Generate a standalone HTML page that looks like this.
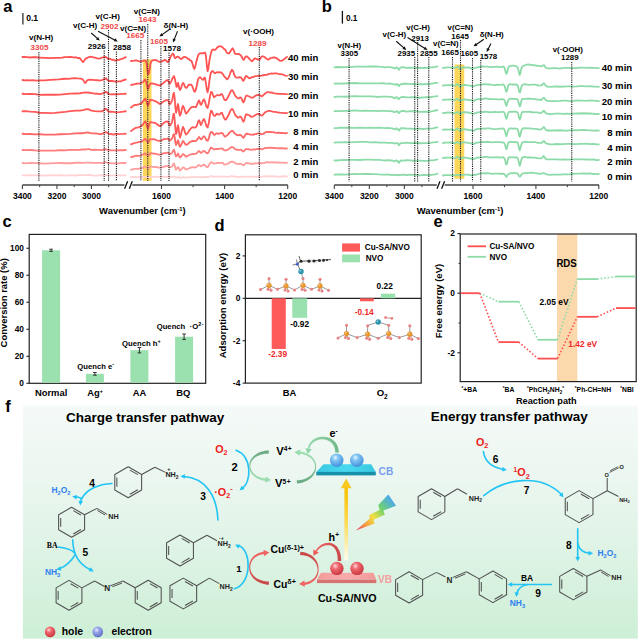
<!DOCTYPE html>
<html><head><meta charset="utf-8"><title>Figure</title>
<style>
html,body{margin:0;padding:0;background:#fff;width:640px;height:640px;overflow:hidden}
svg{display:block}
text{font-family:"Liberation Sans", Arial, sans-serif;font-weight:bold}
</style></head><body>
<svg width="640" height="640" viewBox="0 0 640 640">
<rect width="640" height="640" fill="#fff"/>
<text x="3.2" y="11.6" font-size="16.5">a</text>
<line x1="22.9" y1="13" x2="22.9" y2="24.4" stroke="#222" stroke-width="1.2"/>
<text x="26.2" y="21.1" font-size="8.6">0.1</text>
<line x1="22.4" y1="185" x2="124.4" y2="185" stroke="#444" stroke-width="1.3"/>
<line x1="132.3" y1="185" x2="287.8" y2="185" stroke="#444" stroke-width="1.3"/>
<line x1="124.6" y1="188.75" x2="127.6" y2="181.25" stroke="#111" stroke-width="1.3"/>
<line x1="129.3" y1="188.75" x2="132.3" y2="181.25" stroke="#111" stroke-width="1.3"/>
<line x1="22.4" y1="185" x2="22.4" y2="189" stroke="#444" stroke-width="1.1"/>
<text x="22.4" y="199.2" font-size="8.5" text-anchor="middle">3400</text>
<line x1="56.92" y1="185" x2="56.92" y2="189" stroke="#444" stroke-width="1.1"/>
<text x="56.92" y="199.2" font-size="8.5" text-anchor="middle">3200</text>
<line x1="91.44" y1="185" x2="91.44" y2="189" stroke="#444" stroke-width="1.1"/>
<text x="91.44" y="199.2" font-size="8.5" text-anchor="middle">3000</text>
<line x1="39.66" y1="185" x2="39.66" y2="187.2" stroke="#444" stroke-width="1"/>
<line x1="74.18" y1="185" x2="74.18" y2="187.2" stroke="#444" stroke-width="1"/>
<line x1="108.7" y1="185" x2="108.7" y2="187.2" stroke="#444" stroke-width="1"/>
<line x1="161.5" y1="185" x2="161.5" y2="189" stroke="#444" stroke-width="1.1"/>
<text x="161.5" y="199.2" font-size="8.5" text-anchor="middle">1600</text>
<line x1="224.6" y1="185" x2="224.6" y2="189" stroke="#444" stroke-width="1.1"/>
<text x="224.6" y="199.2" font-size="8.5" text-anchor="middle">1400</text>
<line x1="287.7" y1="185" x2="287.7" y2="189" stroke="#444" stroke-width="1.1"/>
<text x="287.7" y="199.2" font-size="8.5" text-anchor="middle">1200</text>
<line x1="193.05" y1="185" x2="193.05" y2="187.2" stroke="#444" stroke-width="1"/>
<line x1="256.15" y1="185" x2="256.15" y2="187.2" stroke="#444" stroke-width="1"/>
<text x="142.4" y="214.3" font-size="9.45" text-anchor="middle">Wavenumber (cm<tspan font-size="5.8" dy="-3.4">-1</tspan><tspan dy="3.4">)</tspan></text>
<rect x="142.9" y="59.4" width="8.6" height="121.4" fill="#fdd65a"/>
<polyline points="22.5,57 24.35,56.9 27.04,57.03 30,57.5 32.96,57.08 36.2,57.25 40,57.53 44.93,57.81 50.41,58.18 55,57.94 57.89,57.81 59.89,57.9 62,57.72 64.67,57.14 67.44,57.1 70,56.96 72.22,57.15 74.22,57.53 76,57.23 77.52,57.98 78.81,57.89 80,58.39 81.07,59.85 82.04,61 83,62.08 83.96,61.18 84.93,59.4 86,58.28 87.22,57.89 88.56,57.18 90,56.77 91.59,56.82 93.3,57.26 95,57.68 96.67,58.23 98.33,58.65 100,58.31 101.74,57.78 103.48,57.13 105,56.95 106.11,57.1 107,57.84 108,58.78 109.3,58.65 110.7,59.21 112,59.79 113.07,59.62 114.04,60.22 115,60.52 116,60.35 117,60 118,60 118.93,59.75 119.87,59.53 121,59.04 122.64,58.67 124.49,57.65 125.8,57.2" fill="none" stroke="#ff5252" stroke-width="1.8" stroke-linejoin="round" stroke-linecap="round"/>
<polyline points="22.5,80 24.35,80.38 27.04,80.12 30,80.35 32.96,80.23 36.2,80.61 40,80.43 44.81,80.37 50.19,79.82 55,79.59 58.7,79.39 61.85,79.02 65,78.76 68.44,78.92 71.89,78.4 75,78.27 77.7,78.45 80.07,78.54 82,78.92 83.3,80.06 84.15,81.69 85,82.99 85.85,82.49 86.7,80.78 88,79.89 90.11,79.75 92.67,79.88 95,80.18 96.85,80.25 98.48,80.26 100,80.72 101.48,80.05 102.85,79.93 104,78.98 104.81,78.87 105.41,78.52 106,78.23 106.59,79.24 107.19,79.83 108,80.3 109.19,81 110.59,80.81 112,81.01 113.33,81.23 114.67,81.62 116,81.35 117.37,81.57 118.74,81.32 120,81.45 121.08,81.28 122.05,80.58 123,80.24 124.05,80.28 125.08,79.56 125.8,79.5" fill="none" stroke="#ff5454" stroke-width="1.8" stroke-linejoin="round" stroke-linecap="round"/>
<polyline points="22.5,93.75 25.65,94.15 30.19,93.9 35,94.16 39.81,94.9 44.91,94.65 50,94.73 55,94.76 60,94.56 65,94.18 70.26,93.71 75.52,93.5 80,93.26 83.33,92.71 85.89,92.51 88,92.62 89.48,92.44 90.52,93.18 92,93.17 94.52,93.68 97.48,93.73 100,94.06 101.7,93.62 102.96,93.27 104,92.84 104.78,92.44 105.33,92.15 106,91.7 106.78,92.26 107.67,93.29 109,94.13 110.93,94.47 113.31,94.13 116,94.43 119.42,94.03 123.16,93.8 125.8,93.75" fill="none" stroke="#ff5656" stroke-width="1.8" stroke-linejoin="round" stroke-linecap="round"/>
<polyline points="22.5,111.25 25.65,111.2 30.19,111.71 35,111.91 39.81,112.74 44.91,112.97 50,113.15 55,112.85 60,112.31 65,111.88 70.26,111.05 75.52,110.69 80,110.49 83.33,110.21 85.89,109.27 88,109.09 89.48,109.54 90.52,110.3 92,110.66 94.52,111.07 97.48,111.32 100,111.42 101.7,111.46 102.96,110.89 104,110.06 104.78,109.53 105.33,108.66 106,108.89 106.78,109.08 107.67,110.81 109,111.76 110.93,111.68 113.31,111.94 116,112.35 119.42,112.19 123.16,111.71 125.8,111.25" fill="none" stroke="#ff5858" stroke-width="1.8" stroke-linejoin="round" stroke-linecap="round"/>
<polyline points="22.5,133.75 25.65,134.17 30.19,133.98 35,134.28 39.81,134.25 44.91,134.72 50,134.64 55,134.69 60,134.25 65,134.08 70.26,133.88 75.52,133.47 80,133.15 83.33,133.23 85.89,132.62 88,132.44 89.48,132.79 90.52,133.1 92,133.31 94.52,133.45 97.48,133.7 100,134.18 101.7,134.03 102.96,133.22 104,132.92 104.78,132.56 105.33,132.16 106,132.19 106.78,132.53 107.67,133.06 109,134.09 110.93,134 113.31,134.5 116,134.01 119.42,134.16 123.16,133.91 125.8,133.75" fill="none" stroke="#ff6666" stroke-width="1.8" stroke-linejoin="round" stroke-linecap="round"/>
<polyline points="22.5,150 25.65,150.2 30.19,150.01 35,150.4 39.81,150.58 44.91,150.57 50,150.66 55,150.66 60,150.07 65,150.46 70.26,149.96 75.52,149.97 80,149.76 83.33,149.38 85.89,149.49 88,149.03 89.48,149.09 90.52,149.75 92,149.89 94.52,149.75 97.48,149.9 100,149.94 101.7,150.21 102.96,149.54 104,149.58 104.78,149.27 105.33,149.26 106,149.24 106.78,149.59 107.67,149.9 109,149.81 110.93,150.47 113.31,150.38 116,150.32 119.42,150.22 123.16,150.24 125.8,150" fill="none" stroke="#ff7a7a" stroke-width="1.8" stroke-linejoin="round" stroke-linecap="round"/>
<polyline points="22.5,163 25.65,163.32 30.19,162.97 35,163.14 39.81,163.23 44.91,163.57 50,163.35 55,163.21 60,163.01 65,163.27 70.26,163.24 75.52,162.76 80,162.53 83.33,162.8 85.89,162.58 88,162.64 89.48,162.69 90.52,162.6 92,162.83 94.52,162.82 97.48,162.83 100,162.95 101.7,163.14 102.96,162.83 104,162.78 104.78,162.31 105.33,162.12 106,162.23 106.78,162.51 107.67,162.8 109,163.03 110.93,163.12 113.31,163.39 116,163.31 119.42,163.24 123.16,162.94 125.8,163" fill="none" stroke="#ff9c9c" stroke-width="1.8" stroke-linejoin="round" stroke-linecap="round"/>
<polyline points="22.5,175.3 25.65,175.33 30.19,175.15 35,175.3 39.81,175.24 44.91,175.68 50,175.25 55,175.29 60,175.26 65,175.56 70.26,175.05 75.52,175.49 80,174.97 83.33,175.3 85.89,174.96 88,175.17 89.48,174.89 90.52,175.01 92,175.41 94.52,175.57 97.48,175.58 100,175.12 101.7,175.35 102.96,175.1 104,175.13 104.78,174.87 105.33,175.24 106,175.11 106.78,174.97 107.67,175.12 109,175.35 110.93,175.33 113.31,175.42 116,175.51 119.42,175.45 123.16,175.38 125.8,175.3" fill="none" stroke="#ffd3d3" stroke-width="1.8" stroke-linejoin="round" stroke-linecap="round"/>
<polyline points="131,61 132.33,60.8 134.22,60.64 136,60.35 137.37,60.72 138.63,61.19 140,61.56 141.72,61.45 143.56,60.51 145,60.7 145.76,60.54 146.13,61.47 146.5,63.03 147,66.56 147.5,71.11 148,73.92 148.5,74.09 149,71.98 149.5,70.25 149.91,67.35 150.31,64.4 151,62.03 152.11,60.57 153.5,59.99 155,60.03 156.59,60.26 158.3,61.3 160,62.03 161.74,61.39 163.48,60.67 165,59.9 166.19,60.47 167.15,61.58 168,62.16 168.7,61.22 169.3,59.51 170,58.21 170.96,56.06 172.04,54.43 173,53.55 173.7,54.58 174.3,56.82 175,58.16 175.93,57.51 176.96,56.86 178,56.56 179,57.29 180,58.28 181,59.13 182,58.64 183,57.53 184,56.87 185,56.9 186,57.47 187,57.8 188.04,58.82 189.07,59.15 190,60.29 190.73,60.62 191.35,60.9 192,62.22 192.77,64.65 193.57,67.43 194.3,68.96 194.9,67.71 195.43,65.72 196,63.26 196.64,60.81 197.32,57.99 198,55.92 198.61,54.55 199.22,53.73 200,53.37 201.11,53.28 202.38,53.01 203.5,53.26 204.31,52.92 204.96,52.45 205.6,54.19 206.28,59.23 206.94,66.65 207.6,71.22 208.22,69.38 208.83,64.94 209.5,60 210.27,56.16 211.11,52.59 212,50.07 212.98,49.44 214.01,49.78 215,49.86 215.87,49.25 216.69,48.11 217.6,47.12 218.65,46.44 219.79,46.27 221,46.29 222.36,47.15 223.79,48.73 225,49.55 225.81,50.69 226.41,51.86 227,52.93 227.61,53.02 228.22,53.41 229,53.49 230.09,52 231.35,49.83 232.5,48.14 233.39,49.45 234.17,51.53 235,53.64 235.96,53.92 236.98,54.13 238,53.8 239.01,54.16 240.03,54.71 241,55.65 241.9,57.06 242.76,58.73 243.6,59.86 244.39,59 245.16,57.19 246,56.46 246.96,56.48 247.98,57.29 249,58.41 250,59.59 251,60.53 252,61.25 252.96,60.62 253.93,58.99 255,58.36 256.3,58.76 257.7,59.61 259,59.66 260.07,59.12 261.04,57.29 262,56.39 263,56.39 264,56.76 265,57.34 265.96,58.32 266.93,59.05 268,59.71 269.22,59.15 270.56,58.06 272,57.8 273.63,57.31 275.37,57.61 277,58.58 278.33,59.51 279.56,60.54 281,60.86 283.07,60.13 285.37,58.14 287,56.9" fill="none" stroke="#ff5252" stroke-width="1.8" stroke-linejoin="round" stroke-linecap="round"/>
<polyline points="131,85 132,84.58 133.44,84.61 135,84.2 136.67,83.73 138.44,83.59 140,83.59 141.17,82.85 142.11,82.32 143,82 143.87,81.09 144.69,79.76 145.5,79.76 146.35,82.83 147.2,86.5 148,89.21 148.59,87.91 149.13,85.9 150,83.81 151.44,83.3 153.22,83.62 155,84.11 156.67,84.61 158.33,85.2 160,85.56 161.74,84.22 163.48,82.92 165,81.65 166.19,80.7 167.15,80.15 168,80.21 168.67,81.72 169.22,83.39 170,83.57 171.24,81.37 172.7,77.97 174,76.11 174.98,79.25 175.8,83.83 176.5,86.79 177.06,86.6 177.5,83.93 178,82.73 178.59,85.04 179.24,88.45 180,89.94 180.93,88.46 181.96,85.03 183,82.9 184,84.02 185,86.74 186,87.89 187,87.57 188,85.66 189,84.6 190,84.74 191,84.52 192,85.56 193,88.05 194,90.97 195,91.77 196.04,89.12 197.07,84.01 198,79.75 198.7,78.1 199.3,77.74 200,77.17 200.96,78.05 202.04,79.17 203,79.84 203.72,79.26 204.33,77.63 205,77.93 205.83,82.66 206.73,89.17 207.6,92.27 208.43,88.83 209.24,82.02 210,76.81 210.66,73.66 211.27,72.15 212,71.04 212.93,71.09 213.96,72.48 215,73.25 215.96,72.69 216.93,72.27 218,72.34 219.3,72.07 220.7,72.34 222,73.16 223.07,74.3 224.04,76.13 225,77.33 225.96,78.1 226.93,79.34 228,78.56 229.3,75.81 230.7,72 232,69.78 233.07,70.8 234.04,74.19 235,76.5 236,77.27 237,77.56 238,77.68 239.02,77.25 240.04,77.32 241,77.46 241.87,78.59 242.69,80.39 243.5,80.81 244.31,79.28 245.13,77.5 246,75.84 246.96,76.41 247.98,77.16 249,78.14 249.96,78.25 250.93,77.73 252,77.15 253.26,77.02 254.63,76.43 256,76.17 257.3,75.98 258.59,75.64 260,75.87 261.59,75.63 263.3,75.25 265,74.85 266.67,74.79 268.33,74.2 270,73.9 271.67,73.48 273.33,73.73 275,73.33 276.59,73.46 278.19,73.81 280,74.06 282.44,74.38 285.11,75.55 287,75.9" fill="none" stroke="#ff5454" stroke-width="1.8" stroke-linejoin="round" stroke-linecap="round"/>
<polyline points="131,107.5 132,106.8 133.44,105.62 135,104.91 136.67,104.8 138.44,104.51 140,103.8 141.17,103.51 142.11,102.61 143,101.22 143.87,100.4 144.69,99.06 145.5,98.75 146.35,101 147.2,104.36 148,105.76 148.59,104.6 149.13,102.08 150,99.84 151.44,99.97 153.22,100.3 155,101.08 156.7,101.8 158.41,103.11 160,104.07 161.41,103.16 162.7,102.07 164,101.24 165.43,100.49 166.85,100.09 168,100.06 168.65,101.23 169.02,102.95 169.5,104.27 170.28,103.84 171.17,102.44 172,100.73 172.7,97.9 173.35,93.94 174,92.82 174.67,98.21 175.33,107.01 176,112.74 176.67,110.85 177.33,106.53 178,104 178.63,107.33 179.26,113.13 180,115.71 180.93,113.53 181.96,108.62 183,105.8 183.96,107.85 184.93,110.9 186,113.67 187.3,112.54 188.7,110.56 190,108.7 191.07,107.58 192.04,107.1 193,106.72 194,106.94 195,107.1 196,107.05 197.04,104.69 198.07,102.05 199,100.33 199.7,101.61 200.3,104.05 201,104.89 201.9,103.46 202.92,100.78 204,99.28 205.16,102.12 206.39,106.42 207.6,108.02 208.76,103.68 209.9,96.54 211,91.9 212.03,92.24 213.01,95.13 214,97.29 215.04,96.48 216.07,95.85 217,95.13 217.7,95.04 218.3,95.17 219,95.46 219.93,95.21 220.96,94.25 222,94.21 223,96.28 224,99.05 225,100.21 225.96,100.16 226.93,98.91 228,97.18 229.3,94.44 230.7,91.27 232,90.07 233.07,91.14 234.04,93.42 235,95.32 236,96.68 237,97.63 238,98.39 239.02,98.41 240.04,97.44 241,97.61 241.87,99.18 242.69,101.42 243.5,102.4 244.31,100.89 245.13,97.97 246,95.87 246.96,95.49 247.98,96.01 249,96.32 249.96,97.01 250.93,97.33 252,97.79 253.3,97.42 254.7,96.2 256,95.42 257.07,95.03 258.04,94.99 259,95 259.96,95.35 260.93,95.96 262,96.3 263.26,95.14 264.63,94.03 266,92.91 267.3,92.05 268.59,92.14 270,92.53 271.59,92.37 273.3,93.07 275,93.44 276.59,93.59 278.19,93.83 280,93.84 282.44,93.86 285.11,94.03 287,94.1" fill="none" stroke="#ff5656" stroke-width="1.8" stroke-linejoin="round" stroke-linecap="round"/>
<polyline points="131,131.07 132,130.44 133.44,129.17 135,128.18 136.67,127.71 138.44,127.3 140,126.79 141.17,126.15 142.11,125.28 143,124.35 143.87,122.85 144.69,121.88 145.5,121.21 146.35,123.9 147.2,127.06 148,128.87 148.59,127.04 149.13,124.43 150,122.39 151.44,122.13 153.22,122.52 155,122.78 156.7,124.15 158.41,125.15 160,126.2 161.41,125.41 162.7,123.76 164,122.86 165.43,121.71 166.85,121.55 168,121.45 168.65,123.02 169.02,124.79 169.5,125.51 170.28,125.28 171.17,123.7 172,122.03 172.7,118.39 173.35,114.41 174,113.59 174.67,119.54 175.33,128.26 176,134.11 176.67,132.61 177.33,127.44 178,125.07 178.63,128.38 179.26,134.25 180,137.63 180.93,135.04 181.96,130.03 183,126.95 183.96,128.8 184.93,132.37 186,134.63 187.3,133.63 188.7,131.47 190,129.54 191.07,128.21 192.04,127.51 193,127.09 194,127.51 195,127.71 196,127.05 197.04,125.28 198.07,121.71 199,120.23 199.7,121.5 200.3,123.65 201,125.06 201.9,123.04 202.92,120.41 204,119.02 205.16,121.74 206.39,126.1 207.6,127.45 208.76,123.31 209.9,115.6 211,110.76 212.03,111.29 213.01,114.13 214,115.91 215.04,115.91 216.07,114.7 217,113.67 217.7,114.26 218.3,114.5 219,114.59 219.93,114.16 220.96,113 222,112.76 223,115.3 224,118.02 225,119.6 225.96,119.66 226.93,117.75 228,116.01 229.3,113.25 230.7,110.16 232,108.98 233.07,109.91 234.04,112.24 235,114.52 236,116.11 237,116.76 238,117.78 239.02,117.17 240.04,116.55 241,117.05 241.87,118.44 242.69,120.72 243.5,121.7 244.31,120.02 245.13,116.8 246,114.37 246.96,114.47 247.98,114.84 249,115.06 249.96,115.8 250.93,116.82 252,116.62 253.3,116.47 254.7,115.42 256,114.68 257.07,114.06 258.04,114.17 259,113.88 259.96,114.5 260.93,115.36 262,115.54 263.26,114.33 264.63,112.74 266,111.81 267.3,111.26 268.59,110.8 270,110.95 271.59,111.27 273.3,111.84 275,111.91 276.59,112.2 278.19,112.58 280,112.7 282.44,112.8 285.11,113.18 287,113" fill="none" stroke="#ff5858" stroke-width="1.8" stroke-linejoin="round" stroke-linecap="round"/>
<polyline points="131,144.37 132,143.91 133.44,143.36 135,142.98 136.67,142.65 138.44,142.11 140,141.79 141.17,141.69 142.11,141.12 143,140.55 143.87,140.07 144.69,139.12 145.5,138.86 146.35,140 147.2,141.52 148,142.89 148.59,141.91 149.13,140.44 150,139.09 151.44,139.35 153.22,139.24 155,139.34 156.7,140.25 158.41,140.9 160,140.76 161.41,140.69 162.7,139.61 164,138.99 165.43,139.04 166.85,138.81 168,138.33 168.65,138.95 169.02,140.01 169.5,140.35 170.28,140.48 171.17,139.47 172,138.62 172.7,136.98 173.35,134.63 174,134.26 174.67,137.05 175.33,142.13 176,145.03 176.67,144.01 177.33,141.55 178,140.19 178.63,141.9 179.26,145.23 180,146.8 180.93,145.4 181.96,142.84 183,140.95 183.96,142.1 184.93,143.68 186,144.91 187.3,144.5 188.7,143.14 190,141.99 191.07,141.6 192.04,140.97 193,140.99 194,141.2 195,141.16 196,140.87 197.04,139.89 198.07,138.27 199,137.03 199.7,137.83 200.3,138.72 201,139.4 201.9,138.88 202.92,137.11 204,136.24 205.16,137.52 206.39,140.24 207.6,140.79 208.76,138.48 209.9,134.36 211,131.97 212.03,132.14 213.01,133.35 214,134.8 215.04,134.67 216.07,133.63 217,133.31 217.7,133.39 218.3,133.83 219,133.65 219.93,133.34 220.96,133.24 222,132.87 223,133.81 224,135.69 225,136.67 225.96,136.18 226.93,135.41 228,134.59 229.3,132.92 230.7,131.63 232,130.91 233.07,131.19 234.04,132.65 235,133.67 236,134.23 237,135.16 238,135.25 239.02,135.11 240.04,134.67 241,135.25 241.87,136.08 242.69,137.22 243.5,137.74 244.31,136.88 245.13,135.22 246,133.84 246.96,133.67 247.98,134.05 249,134.2 249.96,134.62 250.93,134.58 252,134.7 253.3,134.88 254.7,134.08 256,134.09 257.07,133.66 258.04,133.44 259,133.39 259.96,133.48 260.93,134.24 262,134.16 263.26,133.94 264.63,132.79 266,132.08 267.3,131.82 268.59,132.1 270,131.84 271.59,132.11 273.3,132.1 275,132.66 276.59,132.9 278.19,132.67 280,132.98 282.44,132.94 285.11,133.27 287,133" fill="none" stroke="#ff6666" stroke-width="1.8" stroke-linejoin="round" stroke-linecap="round"/>
<polyline points="131,157.19 132,156.64 133.44,156.75 135,155.91 136.67,155.69 138.44,155.86 140,155.63 141.17,155.36 142.11,154.56 143,154.41 143.87,154.3 144.69,153.46 145.5,153.63 146.35,154.08 147.2,155.25 148,155.6 148.59,155.5 149.13,154.51 150,153.35 151.44,153.24 153.22,153.64 155,153.75 156.7,153.97 158.41,154.62 160,154.68 161.41,154.35 162.7,153.64 164,153.09 165.43,153.11 166.85,152.67 168,152.87 168.65,153.03 169.02,153.53 169.5,154.09 170.28,153.99 171.17,153.51 172,153.05 172.7,151.47 173.35,150.43 174,149.72 174.67,151.66 175.33,154.77 176,156.44 176.67,156.18 177.33,154.7 178,153.38 178.63,154.96 179.26,156.61 180,157.52 180.93,156.7 181.96,155.3 183,153.95 183.96,154.68 184.93,155.64 186,156.77 187.3,156 188.7,155.35 190,154.55 191.07,154.41 192.04,154.08 193,153.95 194,154.13 195,153.9 196,153.64 197.04,153.06 198.07,151.63 199,151.04 199.7,151.49 200.3,152.29 201,152.96 201.9,152.45 202.92,151.2 204,150.94 205.16,151.72 206.39,152.85 207.6,153.38 208.76,151.99 209.9,149.16 211,147.51 212.03,148.11 213.01,148.66 214,149.41 215.04,149.24 216.07,148.82 217,149.09 217.7,148.79 218.3,149.08 219,148.76 219.93,148.58 220.96,148.56 222,148.39 223,148.94 224,150.1 225,150.46 225.96,150.43 226.93,149.99 228,149.49 229.3,148.66 230.7,147.3 232,147.07 233.07,147.27 234.04,148.18 235,149.06 236,149.71 237,149.55 238,149.99 239.02,149.89 240.04,149.85 241,149.7 241.87,150.3 242.69,151.32 243.5,151.4 244.31,150.87 245.13,149.79 246,148.9 246.96,149.16 247.98,149.35 249,149.14 249.96,149.71 250.93,149.84 252,149.72 253.3,149.51 254.7,149.52 256,149.1 257.07,148.82 258.04,149.01 259,148.55 259.96,149.03 260.93,148.93 262,149.45 263.26,148.77 264.63,148.14 266,148 267.3,148.13 268.59,147.66 270,147.99 271.59,147.69 273.3,148.01 275,147.96 276.59,148.28 278.19,148.12 280,148.24 282.44,148.24 285.11,148.49 287,148.5" fill="none" stroke="#ff7a7a" stroke-width="1.8" stroke-linejoin="round" stroke-linecap="round"/>
<polyline points="131,169.72 132,169.74 133.44,169.03 135,168.79 136.67,168.92 138.44,168.77 140,168.27 141.17,168.04 142.11,168.02 143,167.59 143.87,167.12 144.69,166.41 145.5,166.79 146.35,167.31 147.2,168.06 148,168.44 148.59,167.93 149.13,167.18 150,166.55 151.44,166.57 153.22,166.84 155,167.07 156.7,166.92 158.41,167.73 160,167.55 161.41,167.46 162.7,166.94 164,166.74 165.43,166.19 166.85,166.24 168,165.96 168.65,166.6 169.02,166.93 169.5,167.34 170.28,167.17 171.17,166.82 172,166.49 172.7,165.49 173.35,163.84 174,163.5 174.67,165.64 175.33,167.92 176,169.72 176.67,169 177.33,167.72 178,167.16 178.63,167.6 179.26,169.37 180,170.53 180.93,169.74 181.96,168.45 183,167.38 183.96,167.67 184.93,168.73 186,169.59 187.3,168.97 188.7,168.55 190,167.86 191.07,167.38 192.04,167.48 193,167.01 194,167.48 195,167.61 196,167.2 197.04,166.5 198.07,165.38 199,165.08 199.7,165.19 200.3,166.14 201,166.26 201.9,165.58 202.92,165.17 204,164.67 205.16,165.35 206.39,166.82 207.6,167.18 208.76,165.42 209.9,163.32 211,162.24 212.03,162.31 213.01,163.28 214,163.69 215.04,163.36 216.07,163.4 217,162.93 217.7,162.75 218.3,162.83 219,163.27 219.93,162.96 220.96,162.84 222,162.81 223,163.07 224,164.39 225,164.69 225.96,164.46 226.93,163.99 228,163.67 229.3,162.69 230.7,161.86 232,161.52 233.07,161.75 234.04,162.25 235,163.14 236,163.54 237,163.84 238,163.92 239.02,164.12 240.04,163.57 241,163.94 241.87,164.29 242.69,165.26 243.5,165 244.31,164.92 245.13,163.94 246,162.98 246.96,163.01 247.98,163.43 249,163.49 249.96,163.48 250.93,163.74 252,163.89 253.3,163.76 254.7,163.38 256,163.32 257.07,163.29 258.04,163.08 259,162.79 259.96,163.36 260.93,163.13 262,163.3 263.26,162.79 264.63,162.83 266,162.34 267.3,162.16 268.59,162.4 270,162.42 271.59,162.19 273.3,162.61 275,162.18 276.59,162.53 278.19,162.45 280,162.55 282.44,162.54 285.11,162.94 287,162.7" fill="none" stroke="#ff9c9c" stroke-width="1.8" stroke-linejoin="round" stroke-linecap="round"/>
<polyline points="131,177.3 132,176.98 133.44,176.93 135,177.15 136.67,177.08 138.44,177.26 140,177 141.17,176.84 142.11,177.25 143,176.94 143.87,176.98 144.69,176.89 145.5,176.6 146.35,176.65 147.2,177.25 148,177.03 148.59,176.91 149.13,176.9 150,177.15 151.44,176.58 153.22,176.94 155,176.96 156.7,176.72 158.41,176.84 160,177.25 161.41,176.78 162.7,176.68 164,177.13 165.43,176.87 166.85,176.58 168,177.05 168.65,177.1 169.02,177.22 169.5,176.97 170.28,177.25 171.17,176.88 172,176.81 172.7,177 173.35,176.71 174,176.39 174.67,176.8 175.33,177.26 176,177.58 176.67,177.7 177.33,177.24 178,176.99 178.63,177.01 179.26,177.47 180,177.91 180.93,177.92 181.96,177.3 183,177.2 183.96,177.35 184.93,177.35 186,177.77 187.3,177.45 188.7,177.44 190,177.11 191.07,177.39 192.04,177.06 193,177.11 194,177.13 195,177.1 196,177.13 197.04,177.02 198.07,177.22 199,176.9 199.7,176.83 200.3,177.38 201,177.05 201.9,177.34 202.92,176.98 204,177.01 205.16,176.97 206.39,176.99 207.6,177.23 208.76,177.36 209.9,176.35 211,176.14 212.03,176.15 213.01,176.79 214,176.67 215.04,176.59 216.07,176.55 217,176.7 217.7,176.81 218.3,176.57 219,176.38 219.93,176.53 220.96,176.56 222,176.57 223,176.44 224,176.62 225,176.65 225.96,176.64 226.93,176.87 228,176.8 229.3,176.58 230.7,176.2 232,176.22 233.07,176.44 234.04,176.5 235,176.56 236,176.86 237,176.74 238,177.02 239.02,176.86 240.04,176.8 241,176.59 241.87,176.97 242.69,176.86 243.5,176.89 244.31,176.82 245.13,176.77 246,176.62 246.96,176.66 247.98,176.64 249,176.62 249.96,176.73 250.93,176.66 252,176.83 253.3,176.58 254.7,176.92 256,176.64 257.07,176.77 258.04,176.69 259,176.74 259.96,176.7 260.93,176.87 262,176.74 263.26,176.33 264.63,176.37 266,176.19 267.3,176.54 268.59,176.16 270,176.42 271.59,176.18 273.3,176.4 275,176.15 276.59,176.7 278.19,176.77 280,176.75 282.44,176.52 285.11,176.21 287,176.5" fill="none" stroke="#ffd3d3" stroke-width="1.8" stroke-linejoin="round" stroke-linecap="round"/>
<text x="318.4" y="61.2" font-size="9.6" text-anchor="end">40 min</text>
<text x="318.4" y="79.9" font-size="9.6" text-anchor="end">30 min</text>
<text x="318.4" y="98.9" font-size="9.6" text-anchor="end">20 min</text>
<text x="318.4" y="117" font-size="9.6" text-anchor="end">10 min</text>
<text x="318.4" y="135.2" font-size="9.6" text-anchor="end">8 min</text>
<text x="318.4" y="149.9" font-size="9.6" text-anchor="end">4 min</text>
<text x="318.4" y="164.5" font-size="9.6" text-anchor="end">2 min</text>
<text x="318.4" y="178.3" font-size="9.6" text-anchor="end">0 min</text>
<line x1="38.9" y1="52" x2="38.9" y2="181" stroke="#1a1a1a" stroke-width="1.1" stroke-dasharray="1.2 1.0"/>
<line x1="104.2" y1="50.5" x2="104.2" y2="181" stroke="#1a1a1a" stroke-width="1.1" stroke-dasharray="1.2 1.0"/>
<line x1="108.5" y1="30" x2="108.5" y2="181" stroke="#1a1a1a" stroke-width="1.1" stroke-dasharray="1.2 1.0"/>
<line x1="116.4" y1="51.5" x2="116.4" y2="181" stroke="#1a1a1a" stroke-width="1.1" stroke-dasharray="1.2 1.0"/>
<line x1="140.9" y1="40" x2="140.9" y2="181" stroke="#1a1a1a" stroke-width="1.1" stroke-dasharray="1.2 1.0"/>
<line x1="147.75" y1="24" x2="147.75" y2="181" stroke="#1a1a1a" stroke-width="1.1" stroke-dasharray="1.2 1.0"/>
<line x1="160.9" y1="46" x2="160.9" y2="181" stroke="#1a1a1a" stroke-width="1.1" stroke-dasharray="1.2 1.0"/>
<line x1="169" y1="52.5" x2="169" y2="181" stroke="#1a1a1a" stroke-width="1.1" stroke-dasharray="1.2 1.0"/>
<line x1="259.3" y1="47" x2="259.3" y2="181" stroke="#1a1a1a" stroke-width="1.1" stroke-dasharray="1.2 1.0"/>
<text x="29" y="40" font-size="8.1">v(N-H)</text>
<text x="30.6" y="50.2" font-size="8.1" fill="#f04848">3305</text>
<text x="95.6" y="18.8" font-size="8.1">v(C-H)</text>
<text x="100.6" y="28.5" font-size="8.1" fill="#f04848">2902</text>
<text x="73" y="28" font-size="8.1">v(C-H)</text>
<text x="87.7" y="48.5" font-size="8.1">2926</text>
<text x="113" y="50" font-size="8.1">2858</text>
<line x1="91.25" y1="33" x2="97.6" y2="38.68" stroke="#111" stroke-width="1.1"/><polygon points="99.75,40.6 95.93,39.47 98.2,36.93" fill="#111"/>
<line x1="98" y1="31.25" x2="115.19" y2="40.17" stroke="#111" stroke-width="1.1"/><polygon points="117.75,41.5 113.77,41.35 115.34,38.33" fill="#111"/>
<text x="133.7" y="14" font-size="8.1">v(C=N)</text>
<text x="138.5" y="22.3" font-size="8.1" fill="#f04848">1643</text>
<text x="120" y="31.3" font-size="8.1">v(C=N)</text>
<text x="126.2" y="38" font-size="8.1" fill="#f04848">1665</text>
<text x="163.5" y="27.8" font-size="8.1">δ(N-H)</text>
<line x1="170" y1="29" x2="161.75" y2="34.84" stroke="#111" stroke-width="1.1"/><polygon points="159.4,36.5 161.36,33.03 163.32,35.81" fill="#111"/>
<line x1="177.5" y1="31.25" x2="174.07" y2="39.83" stroke="#111" stroke-width="1.1"/><polygon points="173,42.5 172.76,38.53 175.92,39.79" fill="#111"/>
<text x="150" y="44" font-size="8.1" fill="#f04848">1605</text>
<text x="163" y="51.3" font-size="8.1">1578</text>
<text x="243" y="34.3" font-size="8.1">v(·OOH)</text>
<text x="248.6" y="45.7" font-size="8.1" fill="#f04848">1289</text>
<text x="321.7" y="11.8" font-size="16.5">b</text>
<line x1="342.4" y1="10.9" x2="342.4" y2="23.6" stroke="#111" stroke-width="1.3"/>
<text x="345.9" y="20.6" font-size="8.2">0.1</text>
<line x1="334.3" y1="185" x2="436.8" y2="185" stroke="#444" stroke-width="1.3"/>
<line x1="444.6" y1="185" x2="599" y2="185" stroke="#444" stroke-width="1.3"/>
<line x1="437" y1="188.75" x2="440" y2="181.25" stroke="#111" stroke-width="1.3"/>
<line x1="441.6" y1="188.75" x2="444.6" y2="181.25" stroke="#111" stroke-width="1.3"/>
<line x1="334.3" y1="185" x2="334.3" y2="189" stroke="#444" stroke-width="1.1"/>
<text x="334.3" y="199.2" font-size="8.5" text-anchor="middle">3400</text>
<line x1="369.34" y1="185" x2="369.34" y2="189" stroke="#444" stroke-width="1.1"/>
<text x="369.34" y="199.2" font-size="8.5" text-anchor="middle">3200</text>
<line x1="404.38" y1="185" x2="404.38" y2="189" stroke="#444" stroke-width="1.1"/>
<text x="404.38" y="199.2" font-size="8.5" text-anchor="middle">3000</text>
<line x1="351.82" y1="185" x2="351.82" y2="187.2" stroke="#444" stroke-width="1"/>
<line x1="386.86" y1="185" x2="386.86" y2="187.2" stroke="#444" stroke-width="1"/>
<line x1="421.9" y1="185" x2="421.9" y2="187.2" stroke="#444" stroke-width="1"/>
<line x1="473" y1="185" x2="473" y2="189" stroke="#444" stroke-width="1.1"/>
<text x="473" y="199.2" font-size="8.5" text-anchor="middle">1600</text>
<line x1="535.9" y1="185" x2="535.9" y2="189" stroke="#444" stroke-width="1.1"/>
<text x="535.9" y="199.2" font-size="8.5" text-anchor="middle">1400</text>
<line x1="598.8" y1="185" x2="598.8" y2="189" stroke="#444" stroke-width="1.1"/>
<text x="598.8" y="199.2" font-size="8.5" text-anchor="middle">1200</text>
<line x1="504.45" y1="185" x2="504.45" y2="187.2" stroke="#444" stroke-width="1"/>
<line x1="567.35" y1="185" x2="567.35" y2="187.2" stroke="#444" stroke-width="1"/>
<text x="460" y="213.9" font-size="9.45" text-anchor="middle">Wavenumber (cm<tspan font-size="5.8" dy="-3.4">-1</tspan><tspan dy="3.4">)</tspan></text>
<rect x="454.5" y="64.5" width="9.75" height="114.25" fill="#fdd65a"/>
<polyline points="334.4,67.3 336.99,66.99 340.75,67.23 345,67.09 349.67,67.16 354.84,66.66 360,66.55 365.19,66.7 370.37,66.51 375,66.28 378.81,66.71 382.07,66.87 385,67.37 387.7,67.09 390.07,67.21 392,67.74 393.33,67.74 394.22,68.07 395,68.58 395.74,68.16 396.37,67.34 397,67.43 397.67,68.22 398.33,69.01 399,69.89 399.41,69.1 399.81,68.24 401,67.35 403.44,67.25 406.67,67.79 410,67.54 413.26,67.96 416.63,67.72 420,67.86 423.43,68.02 426.85,67.87 430,67.37 432.96,67.28 435.65,66.83 437.5,66.4" fill="none" stroke="#8edbaa" stroke-width="1.8" stroke-linejoin="round" stroke-linecap="round"/>
<polyline points="443,68 444.89,67.55 447.56,67.4 450,67.47 451.89,67.82 453.56,67.78 455,67.82 456.19,67.39 457.15,66.99 458,66.36 458.7,67.44 459.3,68.59 460,68.96 460.78,68.81 461.67,67.87 463,67.24 465.19,67.61 467.81,67.37 470,67.63 471.22,68.5 472,68.51 473,68.45 474.44,68.14 476.11,67.51 478,67.33 480.19,66.58 482.59,66.4 485,66.54 487.3,66.61 489.59,67.05 492,67.12 494.73,66.83 497.57,66.67 500,67.06 501.79,67.05 503.17,66.44 504.3,67.52 505.16,69.89 505.77,72.73 506.4,73.92 507.08,72.7 507.77,69.56 508.6,66.81 509.66,66.23 510.85,65.79 512,65.63 513.04,65.72 514.04,65.76 515,65.96 515.94,66.2 516.86,66.52 517.7,67.51 518.44,70.15 519.11,73.51 519.8,75.02 520.42,73.07 521.06,69.62 522,67.13 523.35,65.81 525.01,65.24 527,64.53 529.52,64.51 532.37,65.17 535,65.27 537.27,65.75 539.32,65.88 541,66.28 542.16,66.15 542.95,65.29 543.7,65.25 544.43,65.48 545.12,66.81 546,67.94 546.99,68.13 548.16,68.49 550,68.42 552.89,68.16 556.44,68.06 560,68.52 563.33,67.95 566.67,67.95 570,67.97 573.33,68.08 576.67,68.02 580,67.7 583.37,67.72 586.75,67.95 590,67.73 593.38,67.89 596.63,68.17 598.9,68.2" fill="none" stroke="#8edbaa" stroke-width="1.8" stroke-linejoin="round" stroke-linecap="round"/>
<polyline points="334.4,83.7 336.99,83.42 340.75,83.62 345,83.48 349.67,83.27 354.84,82.99 360,83.28 365.19,83.34 370.37,83.29 375,83.4 378.81,83.31 382.07,83.23 385,83.52 387.7,83.72 390.07,83.49 392,84.08 393.33,84.07 394.22,84.46 395,84.53 395.74,84.78 396.37,84.1 397,84.03 397.67,84.59 398.33,85.34 399,86.1 399.41,85.72 399.81,84.51 401,84.27 403.44,83.75 406.67,83.7 410,84.19 413.26,83.84 416.63,84.41 420,84.17 423.43,84.23 426.85,84.06 430,83.99 432.96,83.44 435.65,82.87 437.5,82.8" fill="none" stroke="#8edbaa" stroke-width="1.8" stroke-linejoin="round" stroke-linecap="round"/>
<polyline points="443,85.5 444.89,85.44 447.56,85.12 450,85.22 451.89,85.01 453.56,85.69 455,85.57 456.19,85.22 457.15,84.24 458,84.09 458.7,84.78 459.3,86.01 460,86.94 460.78,86.41 461.67,85.82 463,84.99 465.19,84.82 467.81,85.37 470,85.65 471.22,85.74 472,86.3 473,86.07 474.44,85.91 476.11,85.37 478,84.94 480.19,84.82 482.59,84.44 485,84.03 487.3,84.4 489.59,84.48 492,84.95 494.73,85.05 497.57,84.52 500,84.96 501.79,84.59 503.17,84.49 504.3,85.32 505.16,87.59 505.77,90.5 506.4,91.93 507.08,90.45 507.77,87.49 508.6,84.8 509.66,84.26 510.85,84.25 512,84.68 513.04,84.37 514.04,84.72 515,84.39 515.94,84.81 516.86,84.52 517.7,85.57 518.44,88.08 519.11,91.48 519.8,92.65 520.42,91.37 521.06,87.82 522,85.39 523.35,84.39 525.01,84.23 527,84.67 529.52,84.79 532.37,84.53 535,84.71 537.27,85.21 539.32,85.68 541,85.39 542.16,84.89 542.95,83.77 543.7,83.41 544.43,83.65 545.12,84.87 546,86.07 546.99,86.61 548.16,86.67 550,86.85 552.89,86.59 556.44,86.4 560,86.74 563.33,86.7 566.67,86.31 570,86.3 573.33,86.57 576.67,86.43 580,86.09 583.37,86.16 586.75,86.34 590,86.2 593.38,86.51 596.63,86.63 598.9,86.9" fill="none" stroke="#8edbaa" stroke-width="1.8" stroke-linejoin="round" stroke-linecap="round"/>
<polyline points="334.4,97 336.99,96.69 340.75,96.59 345,96.76 349.67,96.38 354.84,96.24 360,96.38 365.19,96.41 370.37,96.41 375,96.64 378.81,96.98 382.07,96.61 385,96.71 387.7,96.69 390.07,96.9 392,96.96 393.33,97.78 394.22,97.71 395,98.27 395.74,97.48 396.37,97.47 397,97.1 397.67,97.85 398.33,98.8 399,99.08 399.41,98.65 399.81,98.06 401,97.08 403.44,96.86 406.67,97.38 410,97.38 413.26,97.22 416.63,97.47 420,97.75 423.43,97.37 426.85,97.23 430,97.25 432.96,96.73 435.65,96.37 437.5,96.1" fill="none" stroke="#8edbaa" stroke-width="1.8" stroke-linejoin="round" stroke-linecap="round"/>
<polyline points="443,100 444.89,99.72 447.56,99.65 450,99.32 451.89,99.66 453.56,99.79 455,99.83 456.19,99.54 457.15,98.78 458,98.64 458.7,99.56 459.3,100.21 460,101.19 460.78,100.54 461.67,100.13 463,99.55 465.19,99.28 467.81,99.98 470,100.21 471.22,100.11 472,100.6 473,100.83 474.44,100.6 476.11,99.55 478,99.11 480.19,99.14 482.59,99.08 485,98.49 487.3,98.59 489.59,99.2 492,99.09 494.73,99.14 497.57,99.39 500,99.33 501.79,99.22 503.17,99.34 504.3,99.87 505.16,102 505.77,104.6 506.4,105.88 507.08,104.11 507.77,101.79 508.6,99.62 509.66,98.66 510.85,98.87 512,98.62 513.04,98.89 514.04,99.01 515,98.92 515.94,98.93 516.86,99.17 517.7,99.45 518.44,102 519.11,104.84 519.8,106.52 520.42,105.26 521.06,101.99 522,99.23 523.35,98.96 525.01,98.78 527,98.77 529.52,98.7 532.37,98.91 535,99.05 537.27,99.63 539.32,99.61 541,100.17 542.16,99.01 542.95,98.36 543.7,97.88 544.43,98.32 545.12,99.35 546,100.32 546.99,100.64 548.16,101.19 550,101.09 552.89,101.03 556.44,101.06 560,100.9 563.33,100.66 566.67,100.56 570,101.09 573.33,100.91 576.67,100.33 580,100.57 583.37,100.7 586.75,100.85 590,100.45 593.38,100.62 596.63,100.93 598.9,101.1" fill="none" stroke="#8edbaa" stroke-width="1.8" stroke-linejoin="round" stroke-linecap="round"/>
<polyline points="334.4,111.1 336.99,111.05 340.75,111.06 345,110.95 349.67,110.9 354.84,110.43 360,110.78 365.19,110.6 370.37,110.83 375,110.95 378.81,111.13 382.07,110.79 385,110.92 387.7,111.21 390.07,111.21 392,111.45 393.33,111.5 394.22,112.2 395,111.79 395.74,111.93 396.37,111.26 397,110.92 397.67,111.94 398.33,112.53 399,113.16 399.41,112.8 399.81,111.84 401,111.2 403.44,110.99 406.67,111.52 410,111.15 413.26,111.26 416.63,111.3 420,111.85 423.43,111.63 426.85,111.75 430,111.68 432.96,111.03 435.65,110.49 437.5,110.2" fill="none" stroke="#8edbaa" stroke-width="1.8" stroke-linejoin="round" stroke-linecap="round"/>
<polyline points="443,113 444.89,113.14 447.56,112.39 450,112.7 451.89,112.74 453.56,113.3 455,113.06 456.19,112.91 457.15,111.79 458,112.04 458.7,112.35 459.3,113.29 460,114.01 460.78,113.83 461.67,112.66 463,112.32 465.19,112.15 467.81,112.49 470,112.86 471.22,113.19 472,113.5 473,113.86 474.44,113.27 476.11,112.94 478,112.48 480.19,112.19 482.59,112.04 485,111.75 487.3,111.91 489.59,112.24 492,112.2 494.73,111.96 497.57,112.14 500,112.17 501.79,111.89 503.17,111.83 504.3,112.5 505.16,114.89 505.77,117.66 506.4,118.87 507.08,117.29 507.77,114.22 508.6,112.03 509.66,111.8 510.85,111.77 512,111.84 513.04,111.65 514.04,111.66 515,111.8 515.94,111.71 516.86,111.99 517.7,112.5 518.44,115.01 519.11,117.99 519.8,119.57 520.42,118.13 521.06,115.04 522,112.25 523.35,111.97 525.01,111.85 527,111.9 529.52,111.74 532.37,112.24 535,112.37 537.27,112.34 539.32,112.93 541,113.05 542.16,112.34 542.95,111.46 543.7,110.79 544.43,111.44 545.12,112.17 546,113.39 546.99,113.46 548.16,113.98 550,114.17 552.89,113.87 556.44,113.63 560,113.55 563.33,113.81 566.67,113.56 570,113.87 573.33,113.68 576.67,113.49 580,113.52 583.37,113.23 586.75,113.49 590,113.34 593.38,113.77 596.63,114.07 598.9,114" fill="none" stroke="#8edbaa" stroke-width="1.8" stroke-linejoin="round" stroke-linecap="round"/>
<polyline points="334.4,128.2 336.99,128.21 340.75,127.73 345,127.77 349.67,127.61 354.84,127.8 360,127.71 365.19,127.89 370.37,127.54 375,127.85 378.81,127.69 382.07,127.86 385,128.1 387.7,127.89 390.07,128.07 392,128.49 393.33,128.75 394.22,128.95 395,129.35 395.74,129.17 396.37,128.16 397,128.48 397.67,129.14 398.33,130.02 399,130.49 399.41,130.5 399.81,129.14 401,128.26 403.44,128.09 406.67,128.61 410,128.56 413.26,128.75 416.63,128.79 420,128.72 423.43,128.98 426.85,128.58 430,128.53 432.96,128.33 435.65,127.72 437.5,127.3" fill="none" stroke="#8edbaa" stroke-width="1.8" stroke-linejoin="round" stroke-linecap="round"/>
<polyline points="443,129.75 444.89,129.43 447.56,129.66 450,129.58 451.89,129.21 453.56,129.99 455,129.98 456.19,129.47 457.15,128.35 458,128.58 458.7,129.04 459.3,130.49 460,131.02 460.78,130.77 461.67,129.86 463,129.03 465.19,129.26 467.81,129.75 470,130.02 471.22,130.35 472,130.2 473,130.59 474.44,130.33 476.11,129.36 478,128.68 480.19,128.81 482.59,128.52 485,128.69 487.3,128.36 489.59,128.47 492,128.92 494.73,129.09 497.57,128.92 500,128.61 501.79,128.66 503.17,128.5 504.3,129.32 505.16,131.84 505.77,134.62 506.4,136.12 507.08,134.35 507.77,131.41 508.6,129.31 509.66,128.29 510.85,128.3 512,128.66 513.04,128.76 514.04,128.31 515,128.76 515.94,128.65 516.86,128.62 517.7,129.3 518.44,132 519.11,135.47 519.8,136.77 520.42,134.99 521.06,131.57 522,129.17 523.35,128.16 525.01,128.26 527,128.39 529.52,128.4 532.37,128.71 535,128.86 537.27,129.18 539.32,129.67 541,129.42 542.16,128.45 542.95,127.89 543.7,127.04 544.43,127.7 545.12,128.74 546,129.99 546.99,130.53 548.16,130.25 550,130.62 552.89,130.32 556.44,130.48 560,130.26 563.33,130.57 566.67,130.66 570,130.37 573.33,130.16 576.67,130.25 580,130.22 583.37,129.79 586.75,130.12 590,130.36 593.38,130.6 596.63,130.29 598.9,130.6" fill="none" stroke="#8edbaa" stroke-width="1.8" stroke-linejoin="round" stroke-linecap="round"/>
<polyline points="334.4,142.7 336.99,142.36 340.75,142.46 345,142.17 349.67,142.43 354.84,142.16 360,141.83 365.19,141.89 370.37,142.43 375,142.19 378.81,142.61 382.07,142.61 385,142.6 387.7,142.89 390.07,142.82 392,142.94 393.33,143.15 394.22,143.42 395,143.52 395.74,143.39 396.37,142.87 397,142.96 397.67,143.34 398.33,144.45 399,145.33 399.41,144.69 399.81,143.79 401,143.11 403.44,143.09 406.67,142.73 410,143.16 413.26,142.81 416.63,143.01 420,143.26 423.43,143.09 426.85,143.15 430,142.83 432.96,142.48 435.65,142.11 437.5,141.8" fill="none" stroke="#8edbaa" stroke-width="1.8" stroke-linejoin="round" stroke-linecap="round"/>
<polyline points="443,143 444.89,142.6 447.56,142.63 450,142.43 451.89,142.74 453.56,142.92 455,143.36 456.19,142.71 457.15,142.13 458,141.99 458.7,142.43 459.3,143.55 460,144 460.78,144.03 461.67,142.76 463,142.36 465.19,142.29 467.81,142.95 470,143.1 471.22,143.44 472,143.76 473,144.02 474.44,143.73 476.11,142.75 478,142.55 480.19,142.17 482.59,141.99 485,142.1 487.3,141.74 489.59,142.03 492,142.29 494.73,142.2 497.57,142.15 500,142.11 501.79,142.47 503.17,142.49 504.3,143.07 505.16,145.21 505.77,147.82 506.4,149.14 507.08,147.69 507.77,144.48 508.6,142.27 509.66,141.84 510.85,141.87 512,142.13 513.04,142.06 514.04,141.83 515,142.39 515.94,142.06 516.86,142.08 517.7,142.73 518.44,145.21 519.11,148.76 519.8,150.37 520.42,148.26 521.06,145.44 522,142.85 523.35,142.07 525.01,141.7 527,142.16 529.52,142.04 532.37,142.17 535,142.14 537.27,142.75 539.32,142.88 541,142.97 542.16,142.61 542.95,141.27 543.7,141.07 544.43,141.4 545.12,142.4 546,143.49 546.99,143.75 548.16,143.91 550,144.31 552.89,144.35 556.44,143.99 560,144.26 563.33,144.13 566.67,143.85 570,143.81 573.33,144.07 576.67,144.08 580,143.96 583.37,143.86 586.75,143.63 590,144.14 593.38,143.87 596.63,144.45 598.9,144.4" fill="none" stroke="#8edbaa" stroke-width="1.8" stroke-linejoin="round" stroke-linecap="round"/>
<polyline points="334.4,160.3 336.99,160.5 340.75,160.15 345,159.98 349.67,159.89 354.84,159.92 360,159.99 365.19,159.71 370.37,159.72 375,159.92 378.81,159.81 382.07,160.22 385,160.5 387.7,160.09 390.07,160.51 392,160.33 393.33,161.08 394.22,161.25 395,161.33 395.74,160.8 396.37,160.35 397,160.64 397.67,160.93 398.33,162.28 399,162.84 399.41,162.29 399.81,161.47 401,160.38 403.44,160.53 406.67,160.24 410,160.43 413.26,160.77 416.63,160.57 420,160.58 423.43,160.8 426.85,160.84 430,160.3 432.96,160.33 435.65,159.8 437.5,159.4" fill="none" stroke="#8edbaa" stroke-width="1.8" stroke-linejoin="round" stroke-linecap="round"/>
<polyline points="443,158 444.89,157.73 447.56,157.69 450,157.65 451.89,157.79 453.56,158.17 455,158.18 456.19,157.72 457.15,156.82 458,156.51 458.7,157.33 459.3,158.84 460,159.09 460.78,158.9 461.67,158.07 463,157.55 465.19,157.53 467.81,158.11 470,158.5 471.22,158.6 472,158.72 473,159.21 474.44,158.82 476.11,157.95 478,157.64 480.19,157.42 482.59,157.29 485,156.81 487.3,156.92 489.59,157.5 492,157.35 494.73,157.38 497.57,157.21 500,157.67 501.79,157.28 503.17,157.22 504.3,158.15 505.16,160.13 505.77,163.54 506.4,164.57 507.08,163.52 507.77,159.91 508.6,157.54 509.66,157.07 510.85,157.33 512,157.3 513.04,157.42 514.04,157.19 515,157.67 515.94,157.2 516.86,157.29 517.7,158.28 518.44,160.63 519.11,163.8 519.8,165.86 520.42,163.78 521.06,160.55 522,157.87 523.35,157.15 525.01,156.92 527,157.5 529.52,157.51 532.37,157.57 535,157.66 537.27,158.04 539.32,158.31 541,158.42 542.16,157.71 542.95,156.78 543.7,155.87 544.43,157.02 545.12,158.21 546,158.97 546.99,159.39 548.16,159.28 550,159.45 552.89,159.38 556.44,159.38 560,159.71 563.33,159.39 566.67,159.68 570,159.7 573.33,159.4 576.67,159.46 580,159.35 583.37,159.41 586.75,159.49 590,159.64 593.38,159.5 596.63,160.18 598.9,160" fill="none" stroke="#8edbaa" stroke-width="1.8" stroke-linejoin="round" stroke-linecap="round"/>
<polyline points="334.4,174.6 336.99,174.49 340.75,174.29 345,174.55 349.67,174.17 354.84,173.81 360,174.15 365.19,173.8 370.37,174.01 375,174.04 378.81,174.45 382.07,174.64 385,174.57 387.7,174.43 390.07,174.92 392,175.02 393.33,174.76 394.22,174.78 395,175.02 395.74,175.13 396.37,174.97 397,174.93 397.67,175 398.33,174.96 399,175.35 399.41,175.17 399.81,175.12 401,174.89 403.44,174.69 406.67,175.11 410,174.62 413.26,174.87 416.63,174.95 420,175.38 423.43,174.87 426.85,175.1 430,175.17 432.96,174.6 435.65,174.3 437.5,173.7" fill="none" stroke="#8edbaa" stroke-width="1.8" stroke-linejoin="round" stroke-linecap="round"/>
<polyline points="443,175.5 444.89,175.18 447.56,175.1 450,175.08 451.89,175.36 453.56,175.24 455,175.44 456.19,175.08 457.15,174.78 458,174.75 458.7,175.07 459.3,175.46 460,175.7 460.78,174.96 461.67,174.66 463,174.83 465.19,174.69 467.81,174.7 470,175.18 471.22,175.46 472,175.06 473,175.05 474.44,174.68 476.11,174.78 478,173.98 480.19,173.73 482.59,173.38 485,173.26 487.3,173.27 489.59,173.44 492,173.87 494.73,173.7 497.57,173.64 500,173.75 501.79,173.62 503.17,173.98 504.3,174.01 505.16,175.08 505.77,176.15 506.4,176.9 507.08,176.04 507.77,174.63 508.6,174 509.66,173.52 510.85,173.16 512,173.32 513.04,173.18 514.04,172.93 515,173.12 515.94,173.45 516.86,173.19 517.7,173.6 518.44,174.8 519.11,176.26 519.8,176.61 520.42,176.48 521.06,175.08 522,173.81 523.35,173.35 525.01,173.16 527,173.02 529.52,172.78 532.37,172.77 535,173.11 537.27,173.45 539.32,173.8 541,173.86 542.16,173.32 542.95,173.13 543.7,173.18 544.43,173.29 545.12,173.67 546,174.25 546.99,174.33 548.16,174.62 550,174.94 552.89,174.59 556.44,174.55 560,174.67 563.33,174.33 566.67,174.39 570,174.26 573.33,173.9 576.67,173.63 580,173.67 583.37,173.47 586.75,173.55 590,173.37 593.38,174.02 596.63,174.1 598.9,173.9" fill="none" stroke="#8edbaa" stroke-width="1.8" stroke-linejoin="round" stroke-linecap="round"/>
<text x="632.2" y="70.5" font-size="9.6" text-anchor="end">40 min</text>
<text x="632.2" y="88.8" font-size="9.6" text-anchor="end">30 min</text>
<text x="632.2" y="104.8" font-size="9.6" text-anchor="end">20 min</text>
<text x="632.2" y="120.3" font-size="9.6" text-anchor="end">10 min</text>
<text x="632.2" y="136.1" font-size="9.6" text-anchor="end">8 min</text>
<text x="632.2" y="150.7" font-size="9.6" text-anchor="end">4 min</text>
<text x="632.2" y="165" font-size="9.6" text-anchor="end">2 min</text>
<text x="632.2" y="179.7" font-size="9.6" text-anchor="end">0 min</text>
<line x1="349.1" y1="58" x2="349.1" y2="181.5" stroke="#1a1a1a" stroke-width="1.1" stroke-dasharray="1.2 1.0"/>
<line x1="414.75" y1="57" x2="414.75" y2="181.5" stroke="#1a1a1a" stroke-width="1.1" stroke-dasharray="1.2 1.0"/>
<line x1="417.6" y1="42" x2="417.6" y2="181.5" stroke="#1a1a1a" stroke-width="1.1" stroke-dasharray="1.2 1.0"/>
<line x1="428.8" y1="57" x2="428.8" y2="181.5" stroke="#1a1a1a" stroke-width="1.1" stroke-dasharray="1.2 1.0"/>
<line x1="452.5" y1="57" x2="452.5" y2="181.5" stroke="#1a1a1a" stroke-width="1.1" stroke-dasharray="1.2 1.0"/>
<line x1="460.5" y1="40" x2="460.5" y2="181.5" stroke="#1a1a1a" stroke-width="1.1" stroke-dasharray="1.2 1.0"/>
<line x1="472.5" y1="58" x2="472.5" y2="181.5" stroke="#1a1a1a" stroke-width="1.1" stroke-dasharray="1.2 1.0"/>
<line x1="480.75" y1="60" x2="480.75" y2="181.5" stroke="#1a1a1a" stroke-width="1.1" stroke-dasharray="1.2 1.0"/>
<line x1="571.75" y1="62" x2="571.75" y2="181.5" stroke="#1a1a1a" stroke-width="1.1" stroke-dasharray="1.2 1.0"/>
<text x="337.5" y="47.5" font-size="7.9">v(N-H)</text>
<text x="340.5" y="56.3" font-size="7.9">3305</text>
<text x="382.5" y="37" font-size="7.9">v(C-H)</text>
<text x="406.25" y="29.5" font-size="7.9">v(C-H)</text>
<text x="411.25" y="40.5" font-size="7.9">2913</text>
<text x="397.5" y="55.5" font-size="7.9">2935</text>
<text x="420" y="55.5" font-size="7.9">2855</text>
<line x1="396.25" y1="41.25" x2="404.08" y2="48.1" stroke="#111" stroke-width="1.1"/><polygon points="406.25,50 402.42,48.91 404.66,46.35" fill="#111"/>
<line x1="407.5" y1="37.5" x2="425.06" y2="48.47" stroke="#111" stroke-width="1.1"/><polygon points="427.5,50 423.55,49.53 425.35,46.65" fill="#111"/>
<text x="447.5" y="29.5" font-size="7.9">v(C=N)</text>
<text x="451.25" y="38.75" font-size="7.9">1645</text>
<text x="433" y="46.25" font-size="7.9">v(C=N)</text>
<text x="441.25" y="55" font-size="7.9">1665</text>
<text x="460.5" y="56.2" font-size="7.9">1605</text>
<text x="479.7" y="59" font-size="7.9">1578</text>
<text x="479.7" y="36.5" font-size="7.9">δ(N-H)</text>
<line x1="483.9" y1="39.3" x2="475.89" y2="44.69" stroke="#111" stroke-width="1.1"/><polygon points="473.5,46.3 475.54,42.88 477.44,45.7" fill="#111"/>
<line x1="490.9" y1="43.5" x2="487.98" y2="49.42" stroke="#111" stroke-width="1.1"/><polygon points="486.7,52 486.77,48.02 489.82,49.53" fill="#111"/>
<text x="552.7" y="52" font-size="7.9">v(·OOH)</text>
<text x="561.1" y="60.4" font-size="7.9">1289</text>
<text x="2.6" y="227.4" font-size="16.5">c</text>
<rect x="29.2" y="234.4" width="176.5" height="148.9" fill="none" stroke="#222" stroke-width="1.2"/>
<line x1="26.4" y1="383.3" x2="29.2" y2="383.3" stroke="#222" stroke-width="1.1"/>
<text x="23.9" y="386" font-size="8.3" text-anchor="end">0</text>
<line x1="26.4" y1="356.29" x2="29.2" y2="356.29" stroke="#222" stroke-width="1.1"/>
<text x="23.9" y="358.99" font-size="8.3" text-anchor="end">20</text>
<line x1="26.4" y1="329.28" x2="29.2" y2="329.28" stroke="#222" stroke-width="1.1"/>
<text x="23.9" y="331.98" font-size="8.3" text-anchor="end">40</text>
<line x1="26.4" y1="302.27" x2="29.2" y2="302.27" stroke="#222" stroke-width="1.1"/>
<text x="23.9" y="304.97" font-size="8.3" text-anchor="end">60</text>
<line x1="26.4" y1="275.26" x2="29.2" y2="275.26" stroke="#222" stroke-width="1.1"/>
<text x="23.9" y="277.96" font-size="8.3" text-anchor="end">80</text>
<line x1="26.4" y1="248.25" x2="29.2" y2="248.25" stroke="#222" stroke-width="1.1"/>
<text x="23.9" y="250.95" font-size="8.3" text-anchor="end">100</text>
<rect x="42.1" y="250.28" width="18" height="132.42" fill="#9be0af"/>
<line x1="51.1" y1="249.2" x2="51.1" y2="251.36" stroke="#222" stroke-width="0.9"/>
<line x1="49.3" y1="249.2" x2="52.9" y2="249.2" stroke="#222" stroke-width="0.9"/>
<line x1="49.3" y1="251.36" x2="52.9" y2="251.36" stroke="#222" stroke-width="0.9"/>
<text x="51.1" y="396.3" font-size="9.4" text-anchor="middle">Normal</text>
<rect x="85.9" y="373.85" width="18" height="8.85" fill="#9be0af"/>
<line x1="94.9" y1="372.5" x2="94.9" y2="375.2" stroke="#222" stroke-width="0.9"/>
<line x1="93.1" y1="372.5" x2="96.7" y2="372.5" stroke="#222" stroke-width="0.9"/>
<line x1="93.1" y1="375.2" x2="96.7" y2="375.2" stroke="#222" stroke-width="0.9"/>
<text x="95" y="396.3" font-size="9.4" text-anchor="middle">Ag<tspan font-size="5.5" dy="-3">+</tspan></text>
<rect x="130.4" y="350.21" width="18" height="32.49" fill="#9be0af"/>
<line x1="139.4" y1="347.51" x2="139.4" y2="352.91" stroke="#222" stroke-width="0.9"/>
<line x1="137.6" y1="347.51" x2="141.2" y2="347.51" stroke="#222" stroke-width="0.9"/>
<line x1="137.6" y1="352.91" x2="141.2" y2="352.91" stroke="#222" stroke-width="0.9"/>
<text x="139.5" y="396.3" font-size="9.4" text-anchor="middle">AA</text>
<rect x="175.1" y="336.71" width="18" height="45.99" fill="#9be0af"/>
<line x1="184.1" y1="334.01" x2="184.1" y2="339.41" stroke="#222" stroke-width="0.9"/>
<line x1="182.3" y1="334.01" x2="185.9" y2="334.01" stroke="#222" stroke-width="0.9"/>
<line x1="182.3" y1="339.41" x2="185.9" y2="339.41" stroke="#222" stroke-width="0.9"/>
<text x="183.2" y="396.3" font-size="9.4" text-anchor="middle">BQ</text>
<text x="77.3" y="369" font-size="7.7">Quench e<tspan font-size="5.5" dy="-3">-</tspan></text>
<text x="122" y="346" font-size="7.7">Quench h<tspan font-size="5.5" dy="-3">+</tspan></text>
<text x="156.7" y="329.2" font-size="7.7" xml:space="preserve">Quench  ·O<tspan font-size="5.6" dy="-3" letter-spacing="0.4">2-</tspan></text>
<text x="0" y="0" font-size="9.45" text-anchor="middle" transform="translate(7.2 302.8) rotate(-90)">Conversion rate (%)</text>
<text x="214.4" y="231.3" font-size="16.5">d</text>
<rect x="245.4" y="234.8" width="175.8" height="148.3" fill="none" stroke="#222" stroke-width="1.2"/>
<line x1="242.6" y1="255.9" x2="245.4" y2="255.9" stroke="#222" stroke-width="1.1"/>
<text x="240.3" y="258.7" font-size="8.4" text-anchor="end">2</text>
<line x1="242.6" y1="298.3" x2="245.4" y2="298.3" stroke="#222" stroke-width="1.1"/>
<text x="240.3" y="301.1" font-size="8.4" text-anchor="end">0</text>
<line x1="242.6" y1="340.7" x2="245.4" y2="340.7" stroke="#222" stroke-width="1.1"/>
<text x="240.3" y="343.5" font-size="8.4" text-anchor="end">-2</text>
<line x1="242.6" y1="383.1" x2="245.4" y2="383.1" stroke="#222" stroke-width="1.1"/>
<text x="240.3" y="385.9" font-size="8.4" text-anchor="end">-4</text>
<line x1="245.4" y1="298.3" x2="421.2" y2="298.3" stroke="#222" stroke-width="1.2"/>
<rect x="271.7" y="298.3" width="14.1" height="50.67" fill="#ff5a5a"/>
<rect x="292.3" y="298.3" width="14.9" height="19.5" fill="#9be0af"/>
<rect x="360" y="298.3" width="13.8" height="2.97" fill="#ff5a5a"/>
<rect x="380.8" y="293.64" width="14.4" height="4.66" fill="#9be0af"/>
<text x="277.6" y="357.3" font-size="8.3" text-anchor="middle" fill="#f02828">-2.39</text>
<text x="299.6" y="327.3" font-size="8.3" text-anchor="middle">-0.92</text>
<text x="364.2" y="314.7" font-size="8.3" text-anchor="middle" fill="#f02828">-0.14</text>
<text x="384.7" y="288.9" font-size="8.3" text-anchor="middle">0.22</text>
<rect x="342.1" y="243.4" width="17.9" height="8.2" fill="#ff5a5a"/>
<rect x="342.1" y="254.5" width="17.9" height="7.8" fill="#9be0af"/>
<text x="364.8" y="250.2" font-size="8.2">Cu-SA/NVO</text>
<text x="365.7" y="260.7" font-size="8.2">NVO</text>
<text x="289.4" y="396.4" font-size="9.4" text-anchor="middle">BA</text>
<text x="382.2" y="396.4" font-size="9.6" text-anchor="middle">O<tspan font-size="6.6" dy="2.6">2</tspan></text>
<text x="0" y="0" font-size="9.55" text-anchor="middle" transform="translate(225.7 305.5) rotate(-90)">Adsorption energy (eV)</text>
<line x1="269" y1="285.3" x2="269" y2="278.6" stroke="#9a9a9a" stroke-width="1"/>
<line x1="269" y1="285.3" x2="268" y2="289.3" stroke="#9a9a9a" stroke-width="1"/>
<line x1="269" y1="285.3" x2="271" y2="290.3" stroke="#9a9a9a" stroke-width="1"/>
<line x1="269" y1="285.3" x2="277.5" y2="289.3" stroke="#9a9a9a" stroke-width="1"/>
<line x1="277.5" y1="289.3" x2="286" y2="285.9" stroke="#9a9a9a" stroke-width="1"/>
<line x1="286" y1="285.9" x2="286" y2="279.2" stroke="#9a9a9a" stroke-width="1"/>
<line x1="286" y1="285.9" x2="285" y2="289.9" stroke="#9a9a9a" stroke-width="1"/>
<line x1="286" y1="285.9" x2="288" y2="290.9" stroke="#9a9a9a" stroke-width="1"/>
<line x1="286" y1="285.9" x2="294.5" y2="289.9" stroke="#9a9a9a" stroke-width="1"/>
<line x1="294.5" y1="289.9" x2="303" y2="285.3" stroke="#9a9a9a" stroke-width="1"/>
<line x1="303" y1="285.3" x2="303" y2="278.6" stroke="#9a9a9a" stroke-width="1"/>
<line x1="303" y1="285.3" x2="302" y2="289.3" stroke="#9a9a9a" stroke-width="1"/>
<line x1="303" y1="285.3" x2="305" y2="290.3" stroke="#9a9a9a" stroke-width="1"/>
<line x1="303" y1="285.3" x2="311.5" y2="289.3" stroke="#9a9a9a" stroke-width="1"/>
<line x1="311.5" y1="289.3" x2="320" y2="285.9" stroke="#9a9a9a" stroke-width="1"/>
<line x1="320" y1="285.9" x2="320" y2="279.2" stroke="#9a9a9a" stroke-width="1"/>
<line x1="320" y1="285.9" x2="319" y2="289.9" stroke="#9a9a9a" stroke-width="1"/>
<line x1="320" y1="285.9" x2="322" y2="290.9" stroke="#9a9a9a" stroke-width="1"/>
<line x1="269" y1="285.3" x2="260.5" y2="289.6" stroke="#9a9a9a" stroke-width="1"/>
<line x1="320" y1="285.9" x2="328.5" y2="290.2" stroke="#9a9a9a" stroke-width="1"/>
<circle cx="269" cy="278.6" r="1.5" fill="#e87878"/><circle cx="268.55" cy="278.15" r="0.52" fill="#fff" opacity="0.45"/>
<circle cx="268" cy="289.3" r="1.5" fill="#e87878"/><circle cx="267.55" cy="288.85" r="0.52" fill="#fff" opacity="0.45"/>
<circle cx="271" cy="290.3" r="1.5" fill="#e87878"/><circle cx="270.55" cy="289.85" r="0.52" fill="#fff" opacity="0.45"/>
<circle cx="277.5" cy="289.3" r="1.5" fill="#e87878"/><circle cx="277.05" cy="288.85" r="0.52" fill="#fff" opacity="0.45"/>
<circle cx="286" cy="279.2" r="1.5" fill="#e87878"/><circle cx="285.55" cy="278.75" r="0.52" fill="#fff" opacity="0.45"/>
<circle cx="285" cy="289.9" r="1.5" fill="#e87878"/><circle cx="284.55" cy="289.45" r="0.52" fill="#fff" opacity="0.45"/>
<circle cx="288" cy="290.9" r="1.5" fill="#e87878"/><circle cx="287.55" cy="290.45" r="0.52" fill="#fff" opacity="0.45"/>
<circle cx="294.5" cy="289.9" r="1.5" fill="#e87878"/><circle cx="294.05" cy="289.45" r="0.52" fill="#fff" opacity="0.45"/>
<circle cx="303" cy="278.6" r="1.5" fill="#e87878"/><circle cx="302.55" cy="278.15" r="0.52" fill="#fff" opacity="0.45"/>
<circle cx="302" cy="289.3" r="1.5" fill="#e87878"/><circle cx="301.55" cy="288.85" r="0.52" fill="#fff" opacity="0.45"/>
<circle cx="305" cy="290.3" r="1.5" fill="#e87878"/><circle cx="304.55" cy="289.85" r="0.52" fill="#fff" opacity="0.45"/>
<circle cx="311.5" cy="289.3" r="1.5" fill="#e87878"/><circle cx="311.05" cy="288.85" r="0.52" fill="#fff" opacity="0.45"/>
<circle cx="320" cy="279.2" r="1.5" fill="#e87878"/><circle cx="319.55" cy="278.75" r="0.52" fill="#fff" opacity="0.45"/>
<circle cx="319" cy="289.9" r="1.5" fill="#e87878"/><circle cx="318.55" cy="289.45" r="0.52" fill="#fff" opacity="0.45"/>
<circle cx="322" cy="290.9" r="1.5" fill="#e87878"/><circle cx="321.55" cy="290.45" r="0.52" fill="#fff" opacity="0.45"/>
<circle cx="260.5" cy="289.6" r="1.5" fill="#e87878"/><circle cx="260.05" cy="289.15" r="0.52" fill="#fff" opacity="0.45"/>
<circle cx="328.5" cy="290.2" r="1.5" fill="#e87878"/><circle cx="328.05" cy="289.75" r="0.52" fill="#fff" opacity="0.45"/>
<circle cx="269" cy="285.3" r="2.6" fill="#e8962e"/><circle cx="268.22" cy="284.52" r="0.91" fill="#fff" opacity="0.45"/>
<circle cx="286" cy="285.9" r="2.6" fill="#e8962e"/><circle cx="285.22" cy="285.12" r="0.91" fill="#fff" opacity="0.45"/>
<circle cx="303" cy="285.3" r="2.6" fill="#e8962e"/><circle cx="302.22" cy="284.52" r="0.91" fill="#fff" opacity="0.45"/>
<circle cx="320" cy="285.9" r="2.6" fill="#e8962e"/><circle cx="319.22" cy="285.12" r="0.91" fill="#fff" opacity="0.45"/>
<line x1="303.1" y1="278.6" x2="301" y2="271.5" stroke="#9a9a9a" stroke-width="1"/>
<line x1="301" y1="271.5" x2="297.3" y2="264" stroke="#777" stroke-width="1"/>
<line x1="297.3" y1="264" x2="300.5" y2="261" stroke="#555" stroke-width="1"/>
<line x1="300.5" y1="261.3" x2="331" y2="259.6" stroke="#555" stroke-width="1"/>
<line x1="300.5" y1="261" x2="299" y2="256" stroke="#555" stroke-width="0.9"/>
<line x1="297.3" y1="264" x2="292.5" y2="265" stroke="#777" stroke-width="0.9"/>
<line x1="297.3" y1="264" x2="296.5" y2="259.5" stroke="#777" stroke-width="0.9"/>
<circle cx="301.1" cy="261.3" r="1.5" fill="#2a2a2a"/>
<circle cx="309" cy="261.2" r="1.6" fill="#2a2a2a"/>
<circle cx="314" cy="261" r="1.6" fill="#2a2a2a"/>
<circle cx="319.5" cy="260.5" r="1.5" fill="#2a2a2a"/>
<circle cx="323.5" cy="260.2" r="1.5" fill="#2a2a2a"/>
<circle cx="327" cy="260" r="1.1" fill="#2a2a2a"/>
<circle cx="311.5" cy="260.2" r="0.9" fill="#ddd"/>
<circle cx="316.8" cy="261.8" r="0.9" fill="#ddd"/>
<circle cx="321.5" cy="259.6" r="0.9" fill="#ddd"/>
<circle cx="297.3" cy="264" r="1.6" fill="#3050c0"/><circle cx="296.82" cy="263.52" r="0.56" fill="#fff" opacity="0.45"/>
<circle cx="301" cy="271.5" r="2.7" fill="#2a96ae"/><circle cx="300.19" cy="270.69" r="0.94" fill="#fff" opacity="0.45"/>
<line x1="368.2" y1="325.3" x2="378.2" y2="322" stroke="#9a9a9a" stroke-width="1"/>
<line x1="378.2" y1="322" x2="388.9" y2="325.3" stroke="#9a9a9a" stroke-width="1"/>
<line x1="346.5" y1="333.6" x2="346.5" y2="325.2" stroke="#9a9a9a" stroke-width="1"/>
<line x1="346.5" y1="333.6" x2="345.5" y2="337.6" stroke="#9a9a9a" stroke-width="1"/>
<line x1="346.5" y1="333.6" x2="348.5" y2="338.6" stroke="#9a9a9a" stroke-width="1"/>
<line x1="346.5" y1="333.6" x2="357.05" y2="337.6" stroke="#9a9a9a" stroke-width="1"/>
<line x1="357.05" y1="337.6" x2="367.6" y2="334.2" stroke="#9a9a9a" stroke-width="1"/>
<line x1="367.6" y1="334.2" x2="367.6" y2="325.8" stroke="#9a9a9a" stroke-width="1"/>
<line x1="367.6" y1="334.2" x2="366.6" y2="338.2" stroke="#9a9a9a" stroke-width="1"/>
<line x1="367.6" y1="334.2" x2="369.6" y2="339.2" stroke="#9a9a9a" stroke-width="1"/>
<line x1="367.6" y1="334.2" x2="378.15" y2="338.2" stroke="#9a9a9a" stroke-width="1"/>
<line x1="378.15" y1="338.2" x2="388.7" y2="333.6" stroke="#9a9a9a" stroke-width="1"/>
<line x1="388.7" y1="333.6" x2="388.7" y2="325.2" stroke="#9a9a9a" stroke-width="1"/>
<line x1="388.7" y1="333.6" x2="387.7" y2="337.6" stroke="#9a9a9a" stroke-width="1"/>
<line x1="388.7" y1="333.6" x2="390.7" y2="338.6" stroke="#9a9a9a" stroke-width="1"/>
<line x1="388.7" y1="333.6" x2="399.25" y2="337.6" stroke="#9a9a9a" stroke-width="1"/>
<line x1="399.25" y1="337.6" x2="409.8" y2="334.2" stroke="#9a9a9a" stroke-width="1"/>
<line x1="409.8" y1="334.2" x2="409.8" y2="325.8" stroke="#9a9a9a" stroke-width="1"/>
<line x1="409.8" y1="334.2" x2="408.8" y2="338.2" stroke="#9a9a9a" stroke-width="1"/>
<line x1="409.8" y1="334.2" x2="411.8" y2="339.2" stroke="#9a9a9a" stroke-width="1"/>
<line x1="346.5" y1="333.6" x2="338" y2="337.9" stroke="#9a9a9a" stroke-width="1"/>
<line x1="409.8" y1="334.2" x2="418.3" y2="338.5" stroke="#9a9a9a" stroke-width="1"/>
<circle cx="346.5" cy="325.2" r="1.5" fill="#e87878"/><circle cx="346.05" cy="324.75" r="0.52" fill="#fff" opacity="0.45"/>
<circle cx="345.5" cy="337.6" r="1.5" fill="#e87878"/><circle cx="345.05" cy="337.15" r="0.52" fill="#fff" opacity="0.45"/>
<circle cx="348.5" cy="338.6" r="1.5" fill="#e87878"/><circle cx="348.05" cy="338.15" r="0.52" fill="#fff" opacity="0.45"/>
<circle cx="357.05" cy="337.6" r="1.5" fill="#e87878"/><circle cx="356.6" cy="337.15" r="0.52" fill="#fff" opacity="0.45"/>
<circle cx="367.6" cy="325.8" r="1.5" fill="#e87878"/><circle cx="367.15" cy="325.35" r="0.52" fill="#fff" opacity="0.45"/>
<circle cx="366.6" cy="338.2" r="1.5" fill="#e87878"/><circle cx="366.15" cy="337.75" r="0.52" fill="#fff" opacity="0.45"/>
<circle cx="369.6" cy="339.2" r="1.5" fill="#e87878"/><circle cx="369.15" cy="338.75" r="0.52" fill="#fff" opacity="0.45"/>
<circle cx="378.15" cy="338.2" r="1.5" fill="#e87878"/><circle cx="377.7" cy="337.75" r="0.52" fill="#fff" opacity="0.45"/>
<circle cx="388.7" cy="325.2" r="1.5" fill="#e87878"/><circle cx="388.25" cy="324.75" r="0.52" fill="#fff" opacity="0.45"/>
<circle cx="387.7" cy="337.6" r="1.5" fill="#e87878"/><circle cx="387.25" cy="337.15" r="0.52" fill="#fff" opacity="0.45"/>
<circle cx="390.7" cy="338.6" r="1.5" fill="#e87878"/><circle cx="390.25" cy="338.15" r="0.52" fill="#fff" opacity="0.45"/>
<circle cx="399.25" cy="337.6" r="1.5" fill="#e87878"/><circle cx="398.8" cy="337.15" r="0.52" fill="#fff" opacity="0.45"/>
<circle cx="409.8" cy="325.8" r="1.5" fill="#e87878"/><circle cx="409.35" cy="325.35" r="0.52" fill="#fff" opacity="0.45"/>
<circle cx="408.8" cy="338.2" r="1.5" fill="#e87878"/><circle cx="408.35" cy="337.75" r="0.52" fill="#fff" opacity="0.45"/>
<circle cx="411.8" cy="339.2" r="1.5" fill="#e87878"/><circle cx="411.35" cy="338.75" r="0.52" fill="#fff" opacity="0.45"/>
<circle cx="338" cy="337.9" r="1.5" fill="#e87878"/><circle cx="337.55" cy="337.45" r="0.52" fill="#fff" opacity="0.45"/>
<circle cx="418.3" cy="338.5" r="1.5" fill="#e87878"/><circle cx="417.85" cy="338.05" r="0.52" fill="#fff" opacity="0.45"/>
<circle cx="346.5" cy="333.6" r="2.6" fill="#e8962e"/><circle cx="345.72" cy="332.82" r="0.91" fill="#fff" opacity="0.45"/>
<circle cx="367.6" cy="334.2" r="2.6" fill="#e8962e"/><circle cx="366.82" cy="333.42" r="0.91" fill="#fff" opacity="0.45"/>
<circle cx="388.7" cy="333.6" r="2.6" fill="#e8962e"/><circle cx="387.92" cy="332.82" r="0.91" fill="#fff" opacity="0.45"/>
<circle cx="409.8" cy="334.2" r="2.6" fill="#e8962e"/><circle cx="409.02" cy="333.42" r="0.91" fill="#fff" opacity="0.45"/>
<line x1="385.5" y1="317.6" x2="391.8" y2="318.3" stroke="#c99" stroke-width="1"/>
<circle cx="385.5" cy="317.6" r="1.4" fill="#e87878"/><circle cx="385.08" cy="317.18" r="0.49" fill="#fff" opacity="0.45"/>
<circle cx="391.8" cy="318.3" r="1.4" fill="#e87878"/><circle cx="391.38" cy="317.88" r="0.49" fill="#fff" opacity="0.45"/>
<circle cx="378.2" cy="322" r="2.7" fill="#2a96ae"/><circle cx="377.39" cy="321.19" r="0.94" fill="#fff" opacity="0.45"/>
<text x="433.6" y="227.2" font-size="16.5">e</text>
<rect x="557" y="234" width="20.3" height="147.6" fill="#fbd9ad"/>
<rect x="460.2" y="234" width="176" height="147.6" fill="none" stroke="#222" stroke-width="1.2"/>
<line x1="457.4" y1="233.6" x2="460.2" y2="233.6" stroke="#222" stroke-width="1.1"/>
<text x="455" y="236.4" font-size="8.4" text-anchor="end">2</text>
<line x1="457.4" y1="293.2" x2="460.2" y2="293.2" stroke="#222" stroke-width="1.1"/>
<text x="455" y="296" font-size="8.4" text-anchor="end">0</text>
<line x1="457.4" y1="352.8" x2="460.2" y2="352.8" stroke="#222" stroke-width="1.1"/>
<text x="455" y="355.6" font-size="8.4" text-anchor="end">-2</text>
<line x1="458.6" y1="263.4" x2="460.2" y2="263.4" stroke="#222" stroke-width="1"/>
<line x1="458.6" y1="323" x2="460.2" y2="323" stroke="#222" stroke-width="1"/>
<line x1="460.8" y1="293.2" x2="479.8" y2="293.2" stroke="#ff5050" stroke-width="1.8"/>
<line x1="498.4" y1="301.7" x2="518.8" y2="301.7" stroke="#8edba8" stroke-width="1.8"/>
<line x1="498.4" y1="342.1" x2="518.8" y2="342.1" stroke="#ff5050" stroke-width="1.8"/>
<line x1="538" y1="339.8" x2="557.6" y2="339.8" stroke="#8edba8" stroke-width="1.8"/>
<line x1="538" y1="358.6" x2="557.6" y2="358.6" stroke="#ff5050" stroke-width="1.8"/>
<line x1="577.3" y1="279.1" x2="597.2" y2="279.1" stroke="#8edba8" stroke-width="1.8"/>
<line x1="577.3" y1="316.8" x2="597.2" y2="316.8" stroke="#ff5050" stroke-width="1.8"/>
<line x1="616" y1="276.5" x2="635.6" y2="276.5" stroke="#8edba8" stroke-width="1.8"/>
<line x1="616" y1="308.1" x2="635.6" y2="308.1" stroke="#ff5050" stroke-width="1.8"/>
<line x1="479.8" y1="293.2" x2="498.4" y2="301.7" stroke="#8edba8" stroke-width="1.6" stroke-dasharray="1.6 1.9"/>
<line x1="479.8" y1="293.2" x2="498.4" y2="342.1" stroke="#ff5050" stroke-width="1.6" stroke-dasharray="1.6 1.9"/>
<line x1="518.8" y1="301.7" x2="538" y2="339.8" stroke="#8edba8" stroke-width="1.6" stroke-dasharray="1.6 1.9"/>
<line x1="518.8" y1="342.1" x2="538" y2="358.6" stroke="#ff5050" stroke-width="1.6" stroke-dasharray="1.6 1.9"/>
<line x1="557.6" y1="339.8" x2="577.3" y2="279.1" stroke="#8edba8" stroke-width="1.6" stroke-dasharray="1.6 1.9"/>
<line x1="557.6" y1="358.6" x2="577.3" y2="316.8" stroke="#ff5050" stroke-width="1.6" stroke-dasharray="1.6 1.9"/>
<line x1="597.2" y1="279.1" x2="616" y2="276.5" stroke="#8edba8" stroke-width="1.6" stroke-dasharray="1.6 1.9"/>
<line x1="597.2" y1="316.8" x2="616" y2="308.1" stroke="#ff5050" stroke-width="1.6" stroke-dasharray="1.6 1.9"/>
<line x1="467.6" y1="246.3" x2="486" y2="246.3" stroke="#ff5050" stroke-width="1.8"/>
<line x1="467.6" y1="256.8" x2="486" y2="256.8" stroke="#8edba8" stroke-width="1.8"/>
<text x="489.4" y="249.3" font-size="8.2">Cu-SA/NVO</text>
<text x="489.4" y="259.8" font-size="8.2">NVO</text>
<text x="0" y="0" font-size="10.4" text-anchor="middle" transform="translate(566.6 267.1) scale(0.93 1)">RDS</text>
<text x="539.6" y="304.7" font-size="8.4">2.05 eV</text>
<text x="568.3" y="347" font-size="8.4" fill="#f02828">1.42 eV</text>
<text x="469.3" y="391.8" font-size="6.8" text-anchor="middle"><tspan font-size="4.5" dy="-2.2">*</tspan><tspan dy="2.2">+BA</tspan></text>
<text x="508.5" y="391.8" font-size="6.8" text-anchor="middle"><tspan font-size="4.5" dy="-2.2">*</tspan><tspan dy="2.2">BA</tspan></text>
<text x="545.5" y="391.8" font-size="6.8" text-anchor="middle"><tspan font-size="4.5" dy="-2.2">*</tspan><tspan dy="2.2">PhCH</tspan><tspan font-size="4.5" dy="1.8">2</tspan><tspan dy="-1.8">NH</tspan><tspan font-size="4.5" dy="1.8">2</tspan><tspan font-size="4.5" dy="-4">*</tspan></text>
<text x="593" y="391.8" font-size="6.8" text-anchor="middle"><tspan font-size="4.5" dy="-2.2">*</tspan><tspan dy="2.2">Ph-CH=NH</tspan></text>
<text x="627" y="391.8" font-size="6.8" text-anchor="middle"><tspan font-size="4.5" dy="-2.2">*</tspan><tspan dy="2.2">NBI</tspan></text>
<text x="546.3" y="404.4" font-size="9.2" text-anchor="middle">Reaction path</text>
<text x="0" y="0" font-size="9.5" text-anchor="middle" transform="translate(442.2 301.1) rotate(-90)">Free energy (eV)</text>
<defs>
<linearGradient id="fbg" x1="0" y1="0" x2="0" y2="1">
<stop offset="0" stop-color="#f5faf8"/><stop offset="0.45" stop-color="#e6f5ec"/><stop offset="1" stop-color="#cdefd6"/></linearGradient>
<radialGradient id="sblue" cx="0.4" cy="0.3" r="0.75"><stop offset="0" stop-color="#e8f6ff"/><stop offset="0.3" stop-color="#80c4f4"/><stop offset="1" stop-color="#3a8ad8"/></radialGradient>
<radialGradient id="sred" cx="0.38" cy="0.32" r="0.7"><stop offset="0" stop-color="#ffd8d8"/><stop offset="0.35" stop-color="#f06870"/><stop offset="1" stop-color="#c8343c"/></radialGradient>
<radialGradient id="sblue2" cx="0.38" cy="0.32" r="0.7"><stop offset="0" stop-color="#e8ecff"/><stop offset="0.35" stop-color="#98a4ec"/><stop offset="1" stop-color="#6070c8"/></radialGradient>
<linearGradient id="yarr" x1="0" y1="0" x2="0" y2="1"><stop offset="0" stop-color="#f8c000"/><stop offset="0.45" stop-color="#fbd84a"/><stop offset="1" stop-color="#fffdf0"/></linearGradient>
<linearGradient id="bolt" x1="391" y1="498" x2="357" y2="530" gradientUnits="userSpaceOnUse">
<stop offset="0" stop-color="#4aa8f0"/><stop offset="0.3" stop-color="#70d070"/><stop offset="0.55" stop-color="#f0e040"/><stop offset="0.78" stop-color="#f8a040"/><stop offset="1" stop-color="#e84060"/></linearGradient>
<linearGradient id="cbtop" x1="0" y1="0" x2="1" y2="0"><stop offset="0" stop-color="#38c8e0"/><stop offset="0.5" stop-color="#48d8f0"/><stop offset="1" stop-color="#38c8e0"/></linearGradient>
<linearGradient id="vbtop" x1="0" y1="0" x2="1" y2="0"><stop offset="0" stop-color="#f49a9a"/><stop offset="0.5" stop-color="#f8aaaa"/><stop offset="1" stop-color="#f49a9a"/></linearGradient>
<linearGradient id="gL" x1="0" y1="0" x2="0" y2="1"><stop offset="0" stop-color="#68a880"/><stop offset="1" stop-color="#a4e2b6"/></linearGradient>
<linearGradient id="gR" x1="0" y1="1" x2="0" y2="0"><stop offset="0" stop-color="#68a880"/><stop offset="1" stop-color="#a4e2b6"/></linearGradient>
<linearGradient id="rL" x1="0" y1="1" x2="0" y2="0"><stop offset="0" stop-color="#c84848"/><stop offset="1" stop-color="#f06464"/></linearGradient>
<linearGradient id="rR" x1="0" y1="0" x2="0" y2="1"><stop offset="0" stop-color="#c84848"/><stop offset="1" stop-color="#f06464"/></linearGradient>
<linearGradient id="rH" x1="1" y1="0" x2="0" y2="0"><stop offset="0" stop-color="#c84848"/><stop offset="1" stop-color="#f06464"/></linearGradient>
<linearGradient id="gE" x1="1" y1="0" x2="0" y2="0"><stop offset="0" stop-color="#70b888"/><stop offset="1" stop-color="#98dab0"/></linearGradient>
</defs>
<rect x="22.9" y="405.6" width="614.9" height="233" fill="url(#fbg)"/>
<text x="5.2" y="411.6" font-size="16.5">f</text>
<text x="66" y="422" font-size="13.5">Charge transfer pathway</text>
<text x="430.8" y="420.6" font-size="13.45">Energy transfer pathway</text>
<path d="M128.2,466.7 L114.78,474.45 L114.78,489.95 L128.2,497.7 L141.62,489.95 L141.62,474.45 Z" fill="none" stroke="#505050" stroke-width="1.05" stroke-linejoin="round"/><line x1="116.86" y1="477.62" x2="116.86" y2="486.78" stroke="#505050" stroke-width="1.05"/><line x1="129.9" y1="494.32" x2="137.84" y2="489.73" stroke="#505050" stroke-width="1.05"/><line x1="137.84" y1="474.67" x2="129.9" y2="470.08" stroke="#505050" stroke-width="1.05"/>
<line x1="141.62" y1="474.45" x2="154.9" y2="467.3" stroke="#505050" stroke-width="1.05"/>
<line x1="154.9" y1="467.3" x2="165.5" y2="472.4" stroke="#505050" stroke-width="1.05"/>
<text x="165.4" y="477.4" font-size="7.2" fill="#222">NH<tspan font-size="4.9" dy="1.58">2</tspan></text>
<text x="167.2" y="471" font-size="5.5" fill="#222">+</text>
<path d="M71.6,507.3 L58.61,514.8 L58.61,529.8 L71.6,537.3 L84.59,529.8 L84.59,514.8 Z" fill="none" stroke="#505050" stroke-width="1.05" stroke-linejoin="round"/><line x1="60.69" y1="517.89" x2="60.69" y2="526.71" stroke="#505050" stroke-width="1.05"/><line x1="73.24" y1="533.95" x2="80.88" y2="529.54" stroke="#505050" stroke-width="1.05"/><line x1="80.88" y1="515.05" x2="73.24" y2="510.64" stroke="#505050" stroke-width="1.05"/>
<line x1="84.59" y1="514.8" x2="97" y2="508.4" stroke="#505050" stroke-width="1.05"/>
<line x1="97" y1="508.4" x2="107.2" y2="514.4" stroke="#505050" stroke-width="1"/><line x1="97.41" y1="510.5" x2="105.16" y2="515.06" stroke="#505050" stroke-width="1"/>
<text x="108.2" y="519" font-size="7.2" fill="#222">NH</text>
<path d="M69,580.4 L56.1,587.85 L56.1,602.75 L69,610.2 L81.9,602.75 L81.9,587.85 Z" fill="none" stroke="#505050" stroke-width="1.05" stroke-linejoin="round"/><line x1="58.17" y1="590.92" x2="58.17" y2="599.67" stroke="#505050" stroke-width="1.05"/><line x1="70.62" y1="606.86" x2="78.2" y2="602.49" stroke="#505050" stroke-width="1.05"/><line x1="78.2" y1="588.11" x2="70.62" y2="583.74" stroke="#505050" stroke-width="1.05"/>
<line x1="81.9" y1="587.85" x2="94.6" y2="581" stroke="#505050" stroke-width="1.05"/>
<line x1="94.6" y1="581" x2="104.5" y2="586.5" stroke="#505050" stroke-width="1.05"/>
<text x="104.2" y="591.2" font-size="8.2" fill="#222">N</text>
<line x1="110.2" y1="585.8" x2="123" y2="581" stroke="#505050" stroke-width="1"/><line x1="112.3" y1="586.72" x2="122.03" y2="583.07" stroke="#505050" stroke-width="1"/>
<path d="M148.2,580.3 L135.21,587.8 L135.21,602.8 L148.2,610.3 L161.19,602.8 L161.19,587.8 Z" fill="none" stroke="#505050" stroke-width="1.05" stroke-linejoin="round"/><line x1="137.29" y1="590.89" x2="137.29" y2="599.71" stroke="#505050" stroke-width="1.05"/><line x1="149.84" y1="606.95" x2="157.48" y2="602.54" stroke="#505050" stroke-width="1.05"/><line x1="157.48" y1="588.05" x2="149.84" y2="583.64" stroke="#505050" stroke-width="1.05"/>
<line x1="123" y1="581" x2="135.21" y2="587.8" stroke="#505050" stroke-width="1.05"/>
<path d="M180,535 L166.58,542.75 L166.58,558.25 L180,566 L193.42,558.25 L193.42,542.75 Z" fill="none" stroke="#505050" stroke-width="1.05" stroke-linejoin="round"/><line x1="168.66" y1="545.92" x2="168.66" y2="555.08" stroke="#505050" stroke-width="1.05"/><line x1="181.7" y1="562.62" x2="189.64" y2="558.03" stroke="#505050" stroke-width="1.05"/><line x1="189.64" y1="542.97" x2="181.7" y2="538.38" stroke="#505050" stroke-width="1.05"/>
<line x1="193.42" y1="542.75" x2="207" y2="535.2" stroke="#505050" stroke-width="1.05"/>
<line x1="207" y1="535.2" x2="217" y2="540.8" stroke="#505050" stroke-width="1.05"/>
<text x="217.5" y="546.1" font-size="7.2" fill="#222">NH<tspan font-size="4.9" dy="1.58">2</tspan></text>
<text x="219" y="539.5" font-size="5.5" fill="#222">·+</text>
<path d="M183.3,578.1 L169.96,585.8 L169.96,601.2 L183.3,608.9 L196.64,601.2 L196.64,585.8 Z" fill="none" stroke="#505050" stroke-width="1.05" stroke-linejoin="round"/><line x1="172.04" y1="588.95" x2="172.04" y2="598.05" stroke="#505050" stroke-width="1.05"/><line x1="184.99" y1="605.52" x2="192.87" y2="600.98" stroke="#505050" stroke-width="1.05"/><line x1="192.87" y1="586.02" x2="184.99" y2="581.48" stroke="#505050" stroke-width="1.05"/>
<line x1="196.64" y1="585.8" x2="209.4" y2="578.1" stroke="#505050" stroke-width="1.05"/>
<line x1="209.4" y1="578.1" x2="219.3" y2="583.6" stroke="#505050" stroke-width="1.05"/>
<text x="219.5" y="589.1" font-size="7.2" fill="#222">NH<tspan font-size="4.9" dy="1.58">2</tspan></text>
<path d="M431.5,488.8 L418.16,496.5 L418.16,511.9 L431.5,519.6 L444.84,511.9 L444.84,496.5 Z" fill="none" stroke="#505050" stroke-width="1.05" stroke-linejoin="round"/><line x1="420.24" y1="499.65" x2="420.24" y2="508.75" stroke="#505050" stroke-width="1.05"/><line x1="433.19" y1="516.23" x2="441.07" y2="511.68" stroke="#505050" stroke-width="1.05"/><line x1="441.07" y1="496.72" x2="433.19" y2="492.18" stroke="#505050" stroke-width="1.05"/>
<line x1="444.84" y1="496.5" x2="457.5" y2="488.8" stroke="#505050" stroke-width="1.05"/>
<line x1="457.5" y1="488.8" x2="467" y2="494.2" stroke="#505050" stroke-width="1.05"/>
<text x="468.8" y="500.5" font-size="7.2" fill="#222">NH<tspan font-size="4.9" dy="1.58">2</tspan></text>
<path d="M579.1,490.6 L565.24,498.6 L565.24,514.6 L579.1,522.6 L592.96,514.6 L592.96,498.6 Z" fill="none" stroke="#505050" stroke-width="1.05" stroke-linejoin="round"/><line x1="567.32" y1="501.84" x2="567.32" y2="511.36" stroke="#505050" stroke-width="1.05"/><line x1="580.87" y1="519.18" x2="589.11" y2="514.42" stroke="#505050" stroke-width="1.05"/><line x1="589.11" y1="498.78" x2="580.87" y2="494.02" stroke="#505050" stroke-width="1.05"/>
<line x1="592.96" y1="498.6" x2="607.2" y2="490.7" stroke="#505050" stroke-width="1.05"/>
<line x1="607.2" y1="490.7" x2="607.2" y2="478" stroke="#505050" stroke-width="1.05"/>
<text x="606.7" y="477.4" font-size="5.6" text-anchor="middle" fill="#222">O</text>
<line x1="609.5" y1="472.5" x2="619.5" y2="467.3" stroke="#505050" stroke-width="0.9"/><line x1="610.1" y1="470.72" x2="617.7" y2="466.77" stroke="#505050" stroke-width="0.9"/>
<text x="621.6" y="469.3" font-size="5.6" text-anchor="middle" fill="#222">O</text>
<line x1="607.2" y1="490.7" x2="618.5" y2="496.5" stroke="#505050" stroke-width="1.05"/>
<text x="619.2" y="501.5" font-size="5.8" fill="#222">NH<tspan font-size="3.94" dy="1.28">2</tspan></text>
<path d="M573.3,568.5 L559.7,576.35 L559.7,592.05 L573.3,599.9 L586.9,592.05 L586.9,576.35 Z" fill="none" stroke="#505050" stroke-width="1.05" stroke-linejoin="round"/><line x1="561.78" y1="579.55" x2="561.78" y2="588.86" stroke="#505050" stroke-width="1.05"/><line x1="575.03" y1="596.5" x2="583.09" y2="591.85" stroke="#505050" stroke-width="1.05"/><line x1="583.09" y1="576.55" x2="575.03" y2="571.9" stroke="#505050" stroke-width="1.05"/>
<line x1="586.9" y1="576.35" x2="600.7" y2="569.9" stroke="#505050" stroke-width="1.05"/>
<line x1="600.7" y1="569.9" x2="610.5" y2="575.8" stroke="#505050" stroke-width="1"/><line x1="601.05" y1="571.98" x2="608.5" y2="576.46" stroke="#505050" stroke-width="1"/>
<text x="611.2" y="580" font-size="7.2" fill="#222">NH</text>
<path d="M409.1,571.8 L395.59,579.6 L395.59,595.2 L409.1,603 L422.61,595.2 L422.61,579.6 Z" fill="none" stroke="#505050" stroke-width="1.05" stroke-linejoin="round"/><line x1="397.67" y1="582.78" x2="397.67" y2="592.02" stroke="#505050" stroke-width="1.05"/><line x1="410.81" y1="599.61" x2="418.82" y2="594.99" stroke="#505050" stroke-width="1.05"/><line x1="418.82" y1="579.81" x2="410.81" y2="575.19" stroke="#505050" stroke-width="1.05"/>
<line x1="422.61" y1="579.6" x2="436.5" y2="572.4" stroke="#505050" stroke-width="1.05"/>
<line x1="436.5" y1="572.4" x2="445.5" y2="577" stroke="#505050" stroke-width="1.05"/>
<text x="446.5" y="583" font-size="8.2" fill="#222">N</text>
<line x1="452.8" y1="577.5" x2="466.4" y2="571.7" stroke="#505050" stroke-width="1"/><line x1="455.06" y1="578.28" x2="465.4" y2="573.87" stroke="#505050" stroke-width="1"/>
<path d="M492.9,571 L479.22,578.9 L479.22,594.7 L492.9,602.6 L506.58,594.7 L506.58,578.9 Z" fill="none" stroke="#505050" stroke-width="1.05" stroke-linejoin="round"/><line x1="481.3" y1="582.11" x2="481.3" y2="591.49" stroke="#505050" stroke-width="1.05"/><line x1="494.64" y1="599.19" x2="502.76" y2="594.5" stroke="#505050" stroke-width="1.05"/><line x1="502.76" y1="579.1" x2="494.64" y2="574.4" stroke="#505050" stroke-width="1.05"/>
<line x1="466.4" y1="571.7" x2="479.22" y2="578.9" stroke="#505050" stroke-width="1.05"/>
<path d="M234.4,588.8 C252,584 252,550 238.5,545.5" fill="none" stroke="#22c4f4" stroke-width="1.6" stroke-linecap="round"/>
<polygon points="235.2,544.6 240.34,544.79 238.13,548.83" fill="#22c4f4"/>
<text x="238.9" y="572.4" font-size="9.6" text-anchor="middle">1</text>
<path d="M236,450.3 C252,456 252,482 242,488.5" fill="none" stroke="#22c4f4" stroke-width="1.6" stroke-linecap="round"/>
<polygon points="239.6,490.4 241.52,485.63 244.57,489.07" fill="#22c4f4"/>
<text x="234.6" y="470.6" font-size="11.2" text-anchor="middle">2</text>
<path d="M217.9,520 C217,495 205,478 184,476.5" fill="none" stroke="#22c4f4" stroke-width="1.6" stroke-linecap="round"/>
<polygon points="180.3,476.2 185.05,474.23 184.73,478.82" fill="#22c4f4"/>
<text x="203" y="499.8" font-size="10.2" text-anchor="middle">3</text>
<path d="M112,483.5 C98,484 86,490 81.5,499" fill="none" stroke="#22c4f4" stroke-width="1.6" stroke-linecap="round"/>
<path d="M81.5,498.5 C80.5,501 80.5,502 80.6,502.5" fill="none" stroke="#22c4f4" stroke-width="1.6" stroke-linecap="round"/>
<polygon points="80.2,505.6 78.4,500.78 82.98,501.27" fill="#22c4f4"/>
<path d="M82,498.5 C79,497.5 77,497 75.5,496.8" fill="none" stroke="#22c4f4" stroke-width="1.5" stroke-linecap="round"/>
<polygon points="72.2,496.2 77.19,494.97 76.18,499.46" fill="#22c4f4"/>
<text x="92.2" y="487.2" font-size="10.2" text-anchor="middle">4</text>
<text x="51.5" y="492.8" font-size="8.4" fill="#2f7ff0">H<tspan font-size="5.71" dy="2.1">2</tspan><tspan dy="-2.1">O</tspan><tspan font-size="5.71" dy="2.1">2</tspan></text>
<path d="M72.7,539.8 C73,556 80,565 90.5,569.8" fill="none" stroke="#22c4f4" stroke-width="1.6" stroke-linecap="round"/>
<polygon points="93.8,571.6 88.66,571.34 90.93,567.33" fill="#22c4f4"/>
<path d="M58.4,547 C66,548 72,549.5 74.5,553" fill="none" stroke="#22c4f4" stroke-width="1.5" stroke-linecap="round"/>
<path d="M75,555 C70,563 64,567 59.5,568.8" fill="none" stroke="#22c4f4" stroke-width="1.5" stroke-linecap="round"/>
<polygon points="56.3,569.6 60.27,566.32 61.3,570.81" fill="#22c4f4"/>
<text x="52.2" y="547.6" font-size="7.8" text-anchor="middle" style="font-family:'Liberation Serif',serif">BA</text>
<text x="85.3" y="555.8" font-size="10.2" text-anchor="middle">5</text>
<text x="44.9" y="574.6" font-size="8.4" fill="#2f7ff0">NH<tspan font-size="5.71" dy="2.1">3</tspan></text>
<path d="M483.4,451.6 C485,462 493,467.5 503,469.2" fill="none" stroke="#22c4f4" stroke-width="1.6" stroke-linecap="round"/>
<polygon points="506.9,469.9 501.98,471.41 502.74,466.88" fill="#22c4f4"/>
<text x="495.6" y="462.8" font-size="10.2" text-anchor="middle">6</text>
<path d="M483.8,495.7 C505,478 540,474 560.5,493.5" fill="none" stroke="#22c4f4" stroke-width="1.6" stroke-linecap="round"/>
<polygon points="563.6,497.4 558.93,495.26 562.51,492.37" fill="#22c4f4"/>
<text x="526.6" y="493.8" font-size="10.2" text-anchor="middle">7</text>
<path d="M577.7,528.8 L577.7,557.5" fill="none" stroke="#22c4f4" stroke-width="1.6" stroke-linecap="round"/>
<polygon points="577.7,561.5 575.4,556.9 580,556.9" fill="#22c4f4"/>
<path d="M577.7,543 C579,550 584,552.8 589.5,553.2" fill="none" stroke="#22c4f4" stroke-width="1.5" stroke-linecap="round"/>
<polygon points="593.2,553.4 588.46,555.4 588.76,550.81" fill="#22c4f4"/>
<text x="568.9" y="548.9" font-size="10.2" text-anchor="middle">8</text>
<text x="597.4" y="556.2" font-size="8.4" fill="#2f7ff0">H<tspan font-size="5.71" dy="2.1">2</tspan><tspan dy="-2.1">O</tspan><tspan font-size="5.71" dy="2.1">2</tspan></text>
<path d="M551.4,584.5 L511.5,584.5" fill="none" stroke="#22c4f4" stroke-width="1.6" stroke-linecap="round"/>
<polygon points="507.6,584.5 512.2,582.2 512.2,586.8" fill="#22c4f4"/>
<path d="M527.4,584.5 C522,585.5 518,589 516.8,593.2" fill="none" stroke="#22c4f4" stroke-width="1.5" stroke-linecap="round"/>
<polygon points="516.3,597 514.47,592.19 519.05,592.65" fill="#22c4f4"/>
<text x="527.1" y="581.2" font-size="8.4" text-anchor="middle">BA</text>
<text x="538.1" y="597" font-size="10.2" text-anchor="middle">9</text>
<text x="509.8" y="606.3" font-size="8.4" fill="#2f7ff0">NH<tspan font-size="5.71" dy="2.1">3</tspan></text>
<text x="215.2" y="452.8" font-size="10.8" fill="#ee2020">O<tspan font-size="7.2" dy="2.4">2</tspan></text>
<text x="214.2" y="495.8" font-size="10.8" fill="#ee2020">·O<tspan font-size="7.2" dy="2.4">2</tspan><tspan font-size="7.2" dy="-7.4">-</tspan></text>
<text x="475.9" y="445.7" font-size="10.8" fill="#ee2020">O<tspan font-size="7.2" dy="2.4">2</tspan></text>
<text x="513.6" y="476.1" font-size="10.8" fill="#ee2020"><tspan font-size="6.5" dy="-4.5">1</tspan><tspan dy="4.5">O</tspan><tspan font-size="7.2" dy="2.4">2</tspan></text>
<polygon points="268.69,450.2 266.82,450.4 264.93,450.71 263.08,451.15 261.29,451.69 259.58,452.35 257.95,453.12 256.42,453.99 255,454.97 253.7,456.05 252.55,457.22 251.54,458.49 250.7,459.84 250.05,461.28 249.59,462.79 249.34,464.37 249.3,466 249.34,467.45 249.54,468.86 249.92,470.22 250.44,471.53 251.12,472.77 251.94,473.96 252.88,475.06 253.95,476.1 255.14,477.04 256.43,477.91 257.81,478.67 259.28,479.35 260.84,479.92 262.46,480.39 264.15,480.75 265.86,480.99 266.14,478.41 264.52,478.28 262.98,478.05 261.49,477.72 260.06,477.29 258.7,476.77 257.41,476.17 256.21,475.47 255.1,474.7 254.08,473.86 253.17,472.94 252.37,471.95 251.69,470.89 251.13,469.76 250.71,468.57 250.43,467.32 250.3,466 250.48,464.52 250.84,463.14 251.38,461.86 252.08,460.66 252.92,459.56 253.91,458.54 255.02,457.62 256.25,456.78 257.58,456.04 259.01,455.38 260.52,454.83 262.1,454.38 263.74,454.02 265.41,453.77 267.12,453.63 268.91,453.6" fill="url(#gL)"/>
<polygon points="271,480.1 265.13,482.78 265.71,476.41" fill="#9adcb0"/>
<polygon points="297.03,483.59 298.96,483.37 300.9,482.99 302.76,482.48 304.55,481.84 306.25,481.08 307.85,480.21 309.35,479.22 310.72,478.14 311.96,476.96 313.07,475.7 314.01,474.36 314.8,472.94 315.41,471.47 315.84,469.95 316.07,468.39 316.1,466.8 316.05,465.21 315.82,463.68 315.4,462.21 314.82,460.81 314.08,459.48 313.2,458.24 312.18,457.09 311.05,456.02 309.81,455.05 308.47,454.18 307.05,453.41 305.56,452.75 304,452.19 302.4,451.74 300.75,451.41 299.12,451.21 298.88,453.79 300.42,453.89 301.91,454.09 303.37,454.4 304.8,454.81 306.18,455.32 307.5,455.93 308.75,456.63 309.92,457.43 311,458.31 311.98,459.28 312.84,460.33 313.58,461.46 314.19,462.67 314.65,463.97 314.96,465.34 315.1,466.8 314.93,468.24 314.58,469.62 314.07,470.93 313.4,472.18 312.58,473.35 311.63,474.45 310.55,475.48 309.35,476.41 308.05,477.26 306.66,478.01 305.17,478.66 303.61,479.21 301.99,479.64 300.31,479.95 298.59,480.14 296.77,480.21" fill="url(#gR)"/>
<polygon points="294.4,451.9 300.38,449.49 299.51,455.83" fill="#9adcb0"/>
<polygon points="338.8,452.42 338.69,450.78 338.43,449.12 338.03,447.54 337.49,446.03 336.81,444.62 336,443.29 335.08,442.08 334.03,440.97 332.88,439.97 331.64,439.1 330.3,438.36 328.88,437.75 327.38,437.27 325.81,436.93 324.18,436.74 322.51,436.7 321.01,436.79 319.58,436.99 318.2,437.31 316.9,437.73 315.66,438.26 314.49,438.87 313.4,439.56 312.4,440.33 311.48,441.17 310.65,442.07 309.92,443.02 309.28,444.02 308.75,445.07 308.32,446.14 308.01,447.25 307.82,448.32 309.58,448.68 309.8,447.7 310.11,446.79 310.51,445.91 311,445.05 311.57,444.23 312.23,443.45 312.97,442.72 313.78,442.05 314.66,441.43 315.61,440.88 316.62,440.4 317.69,440 318.82,439.68 319.99,439.46 321.22,439.33 322.49,439.3 323.94,439.4 325.32,439.61 326.61,439.95 327.83,440.4 328.96,440.94 330.01,441.59 330.97,442.33 331.84,443.16 332.62,444.07 333.3,445.06 333.89,446.12 334.37,447.26 334.75,448.47 335.02,449.75 335.17,451.09 335.2,452.58" fill="url(#gE)"/>
<polygon points="307.6,454 305.52,448.08 311.8,449.33" fill="#90d6a8"/>
<text x="276.2" y="455.2" font-size="11.2">V<tspan font-size="6.6" dy="-3.8" letter-spacing="0.5">4+</tspan></text>
<text x="275.1" y="487.4" font-size="11.2">V<tspan font-size="6.6" dy="-3.8" letter-spacing="0.5">5+</tspan></text>
<text x="329.6" y="436.9" font-size="10.8">e<tspan font-size="6.5" dy="-3.6">-</tspan></text>
<polygon points="268.98,581.4 267.19,581.39 265.48,581.26 263.79,581 262.15,580.62 260.56,580.12 259.04,579.51 257.6,578.78 256.25,577.95 255.01,577.01 253.88,575.96 252.88,574.81 252.01,573.55 251.3,572.19 250.75,570.73 250.38,569.17 250.2,567.49 250.32,565.99 250.58,564.57 250.96,563.24 251.46,561.99 252.08,560.83 252.8,559.76 253.62,558.78 254.53,557.89 255.54,557.09 256.62,556.38 257.78,555.77 259.02,555.26 260.32,554.84 261.69,554.52 263.11,554.31 264.64,554.19 264.36,551.61 262.75,551.83 261.16,552.18 259.63,552.64 258.18,553.22 256.82,553.91 255.54,554.7 254.37,555.59 253.29,556.59 252.33,557.67 251.48,558.85 250.76,560.11 250.17,561.45 249.72,562.86 249.4,564.34 249.23,565.89 249.2,567.51 249.24,569.31 249.49,571.05 249.95,572.72 250.6,574.31 251.44,575.81 252.45,577.21 253.62,578.51 254.92,579.7 256.36,580.78 257.91,581.74 259.56,582.58 261.3,583.29 263.11,583.87 264.99,584.32 266.92,584.63 268.82,584.8" fill="url(#rL)"/>
<polygon points="269.4,552.6 264.05,556.2 263.58,549.82" fill="#f06464"/>
<polygon points="300.07,555.09 301.83,555.16 303.49,555.34 305.09,555.64 306.65,556.07 308.13,556.61 309.54,557.26 310.87,558.03 312.1,558.9 313.24,559.89 314.26,560.99 315.17,562.19 315.96,563.5 316.6,564.91 317.1,566.44 317.43,568.07 317.6,569.8 317.47,571.25 317.19,572.61 316.78,573.9 316.24,575.11 315.58,576.23 314.82,577.27 313.96,578.23 313.01,579.09 311.99,579.87 310.89,580.55 309.74,581.13 308.54,581.62 307.3,582 306.03,582.28 304.74,582.44 303.39,582.5 303.61,585.1 305.06,584.92 306.53,584.62 307.97,584.2 309.35,583.66 310.68,583.01 311.94,582.25 313.12,581.39 314.21,580.43 315.21,579.38 316.1,578.23 316.87,577.01 317.51,575.7 318.01,574.32 318.37,572.87 318.57,571.36 318.6,569.8 318.58,567.95 318.37,566.16 317.98,564.45 317.41,562.82 316.67,561.28 315.78,559.83 314.73,558.49 313.55,557.25 312.23,556.11 310.8,555.1 309.26,554.21 307.62,553.44 305.89,552.8 304.08,552.3 302.2,551.93 300.33,551.71" fill="url(#rR)"/>
<polygon points="299,584 304.4,580.47 304.78,586.86" fill="#f06464"/>
<polygon points="341.2,561.01 341.17,559.48 341.06,557.94 340.89,556.43 340.63,554.97 340.31,553.55 339.9,552.18 339.4,550.87 338.83,549.63 338.16,548.45 337.4,547.36 336.55,546.36 335.61,545.46 334.57,544.67 333.44,544 332.22,543.45 330.88,543.03 329.48,542.86 328.18,542.83 326.91,542.92 325.69,543.12 324.51,543.42 323.38,543.81 322.3,544.29 321.27,544.84 320.31,545.46 319.4,546.14 318.55,546.88 317.77,547.66 317.05,548.48 316.39,549.34 315.81,550.21 315.31,551.09 316.69,551.91 317.2,551.11 317.75,550.35 318.37,549.62 319.05,548.92 319.78,548.26 320.56,547.65 321.38,547.09 322.25,546.58 323.16,546.15 324.1,545.78 325.08,545.49 326.09,545.28 327.12,545.16 328.18,545.13 329.27,545.21 330.32,545.37 331.29,545.74 332.21,546.23 333.04,546.8 333.8,547.46 334.48,548.21 335.1,549.03 335.64,549.94 336.12,550.92 336.54,551.98 336.89,553.11 337.17,554.29 337.38,555.54 337.53,556.83 337.62,558.17 337.64,559.55 337.6,560.99" fill="url(#rH)"/>
<polygon points="313.4,555.8 313.25,549.52 318.83,552.65" fill="#ec5c5c"/>
<text x="270.4" y="553.4" font-size="10.4">Cu<tspan font-size="7.2" dy="-3.6">(δ-1)+</tspan></text>
<text x="273.5" y="587.8" font-size="10.4">Cu<tspan font-size="7.2" dy="-3.6">δ+</tspan></text>
<text x="328.6" y="540.8" font-size="10.8">h<tspan font-size="6.5" dy="-3.6">+</tspan></text>
<polygon points="323.5,464.3 371.2,464.3 375.8,471.9 316.3,471.9" fill="url(#cbtop)"/>
<rect x="316.3" y="471.9" width="59.5" height="3.5" fill="#1990aa"/>
<circle cx="336.7" cy="460.3" r="6.8" fill="url(#sblue)"/>
<circle cx="356.8" cy="460.3" r="6.8" fill="url(#sblue)"/>
<text x="378.6" y="474.6" font-size="10.2" fill="#7c9ef0">CB</text>
<polygon points="321,572.7 373.4,572.7 376.3,579.6 316.9,579.6" fill="url(#vbtop)"/>
<rect x="316.9" y="579.6" width="59.4" height="3.5" fill="#d87272"/>
<circle cx="336.9" cy="568.4" r="6.7" fill="url(#sred)"/>
<circle cx="357" cy="568.4" r="6.7" fill="url(#sred)"/>
<text x="378" y="583.3" font-size="10.2" fill="#f4a0a0">VB</text>
<text x="347.3" y="601.5" font-size="10.7" text-anchor="middle">Cu-SA/NVO</text>
<rect x="344.4" y="487" width="3.6" height="73.3" fill="url(#yarr)"/>
<polygon points="346.2,478.4 351.6,488.2 340.8,488.2" fill="#f8c820"/>
<polygon points="388.3,494.5 396.1,505.8 383.4,510.5 384.8,514.8 373.5,519.8 374.5,523.5 355.8,530.6 369.8,518.5 369.2,515 379.5,510 378.3,505" fill="url(#bolt)"/>
<circle cx="50.1" cy="631.9" r="5.3" fill="url(#sred)"/>
<text x="61.7" y="635.3" font-size="10.4">hole</text>
<circle cx="97.8" cy="631.9" r="5.3" fill="url(#sblue2)"/>
<text x="111.4" y="635.3" font-size="10.4">electron</text>
</svg>
</body></html>
